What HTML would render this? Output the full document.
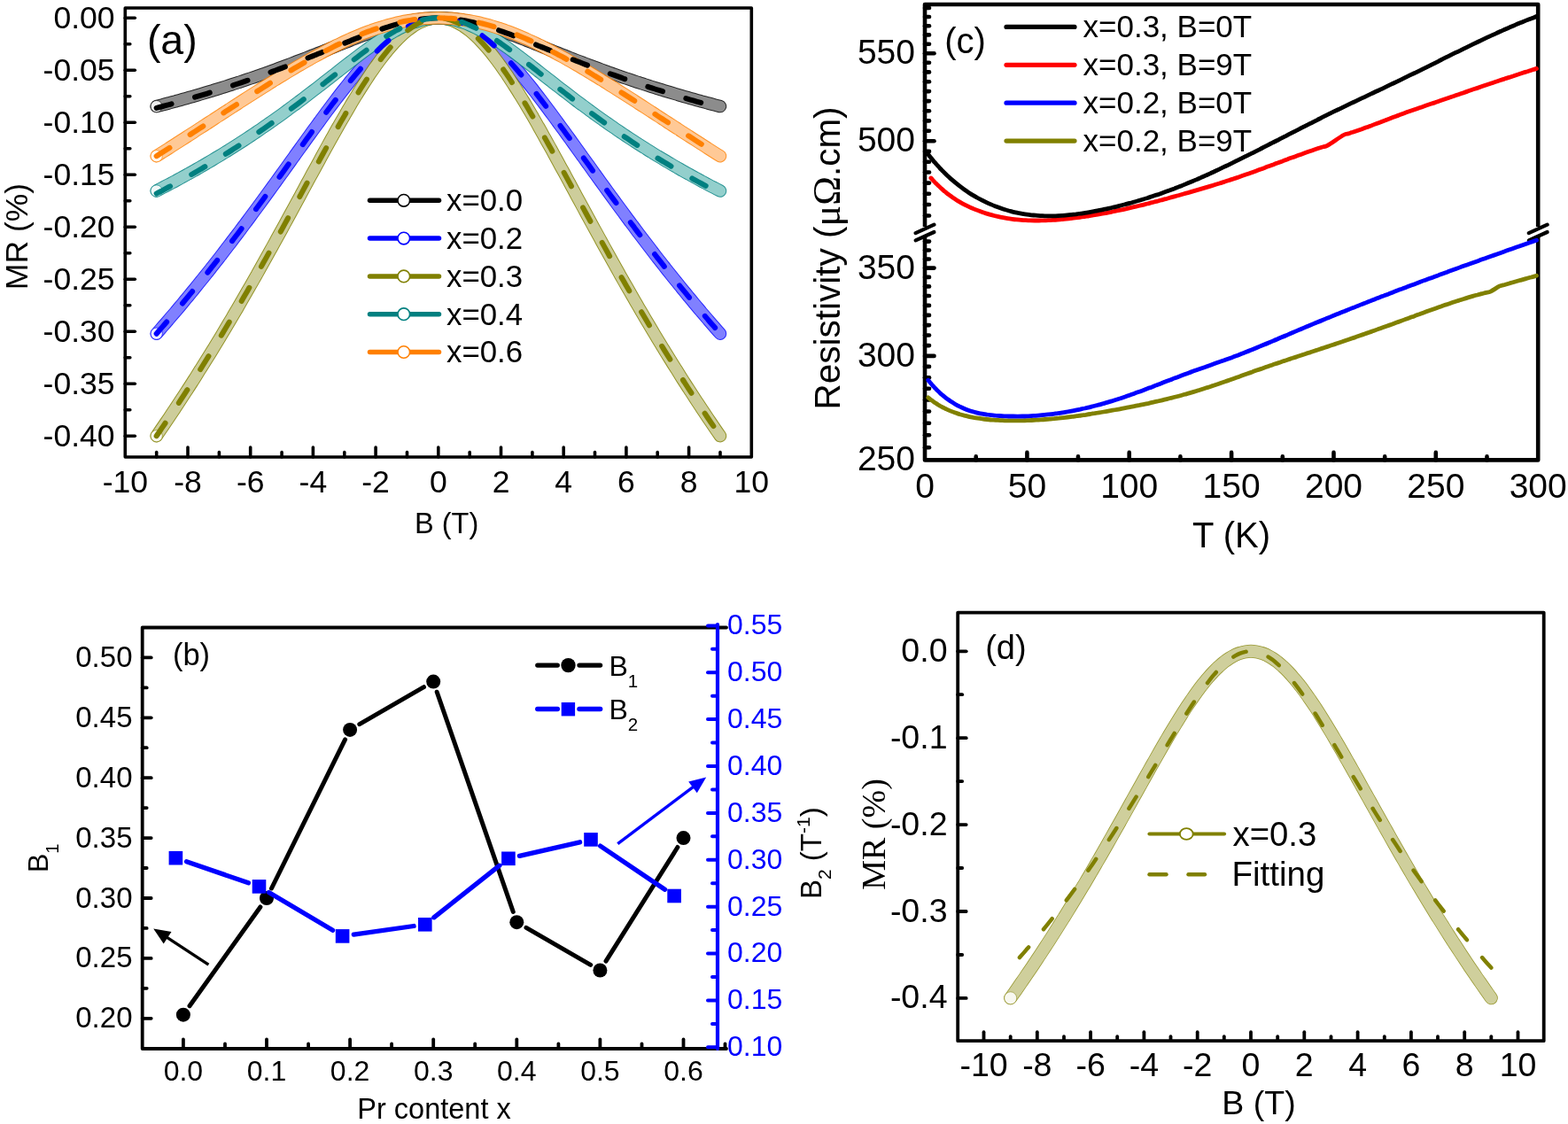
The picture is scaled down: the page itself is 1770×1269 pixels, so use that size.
<!DOCTYPE html>
<html><head><meta charset="utf-8"><title>Figure</title>
<style>html,body{margin:0;padding:0;background:#fff;}svg{display:block;}</style>
</head><body>
<svg width="1770" height="1269" viewBox="0 0 1770 1269">
<rect width="1770" height="1269" fill="#fff"/>
<path d="M176.7,120.1 C177.8,119.8 181.4,118.9 183.7,118.3 C186.1,117.6 188.4,117 190.8,116.4 C193.1,115.7 195.5,115.1 197.9,114.5 C200.2,113.8 202.6,113.2 204.9,112.5 C207.3,111.8 209.6,111.2 212,110.5 C214.4,109.8 216.7,109.2 219.1,108.5 C221.4,107.8 223.8,107.1 226.1,106.4 C228.5,105.7 230.9,105 233.2,104.3 C235.6,103.6 237.9,102.9 240.3,102.2 C242.6,101.4 245,100.7 247.4,100 C249.7,99.3 252.1,98.5 254.4,97.8 C256.8,97 259.1,96.3 261.5,95.5 C263.8,94.7 266.2,94 268.6,93.2 C270.9,92.4 273.3,91.7 275.6,90.9 C278,90.1 280.3,89.3 282.7,88.5 C285.1,87.7 287.4,86.9 289.8,86.1 C292.1,85.2 294.5,84.4 296.8,83.6 C299.2,82.8 301.6,81.9 303.9,81.1 C306.3,80.2 308.6,79.4 311,78.5 C313.3,77.7 315.7,76.8 318.1,75.9 C320.4,75.1 322.8,74.2 325.1,73.3 C327.5,72.4 329.8,71.5 332.2,70.6 C334.5,69.7 336.9,68.8 339.3,67.9 C341.6,67 344,66.1 346.3,65.2 C348.7,64.3 351,63.3 353.4,62.4 C355.8,61.5 358.1,60.5 360.5,59.6 C362.8,58.7 365.2,57.7 367.5,56.8 C369.9,55.8 372.3,54.9 374.6,54 C377,53 379.3,52.1 381.7,51.1 C384,50.2 386.4,49.2 388.8,48.3 C391.1,47.4 393.5,46.4 395.8,45.5 C398.2,44.6 400.5,43.6 402.9,42.7 C405.2,41.8 407.6,40.9 410,40 C412.3,39.1 414.7,38.2 417,37.4 C419.4,36.5 421.7,35.6 424.1,34.8 C426.5,34 428.8,33.2 431.2,32.4 C433.5,31.6 435.9,30.8 438.2,30.1 C440.6,29.4 443,28.6 445.3,28 C447.7,27.3 450,26.7 452.4,26.1 C454.7,25.5 457.1,24.9 459.5,24.4 C461.8,23.8 464.2,23.4 466.5,22.9 C468.9,22.5 471.2,22.1 473.6,21.8 C475.9,21.5 478.3,21.2 480.7,21 C483,20.8 485.4,20.6 487.7,20.5 C490.1,20.4 492.4,20.3 494.8,20.3 C497.2,20.3 499.5,20.4 501.9,20.5 C504.2,20.6 506.6,20.8 508.9,21 C511.3,21.2 513.7,21.5 516,21.8 C518.4,22.1 520.7,22.5 523.1,22.9 C525.4,23.4 527.8,23.8 530.2,24.4 C532.5,24.9 534.9,25.5 537.2,26.1 C539.6,26.7 541.9,27.3 544.3,28 C546.6,28.6 549,29.4 551.4,30.1 C553.7,30.8 556.1,31.6 558.4,32.4 C560.8,33.2 563.1,34 565.5,34.8 C567.9,35.6 570.2,36.5 572.6,37.4 C574.9,38.2 577.3,39.1 579.6,40 C582,40.9 584.4,41.8 586.7,42.7 C589.1,43.6 591.4,44.6 593.8,45.5 C596.1,46.4 598.5,47.4 600.9,48.3 C603.2,49.2 605.6,50.2 607.9,51.1 C610.3,52.1 612.6,53 615,54 C617.3,54.9 619.7,55.8 622.1,56.8 C624.4,57.7 626.8,58.7 629.1,59.6 C631.5,60.5 633.8,61.5 636.2,62.4 C638.6,63.3 640.9,64.3 643.3,65.2 C645.6,66.1 648,67 650.3,67.9 C652.7,68.8 655.1,69.7 657.4,70.6 C659.8,71.5 662.1,72.4 664.5,73.3 C666.8,74.2 669.2,75.1 671.5,75.9 C673.9,76.8 676.3,77.7 678.6,78.5 C681,79.4 683.3,80.2 685.7,81.1 C688,81.9 690.4,82.8 692.8,83.6 C695.1,84.4 697.5,85.2 699.8,86.1 C702.2,86.9 704.5,87.7 706.9,88.5 C709.3,89.3 711.6,90.1 714,90.9 C716.3,91.7 718.7,92.4 721,93.2 C723.4,94 725.8,94.7 728.1,95.5 C730.5,96.3 732.8,97 735.2,97.8 C737.5,98.5 739.9,99.3 742.2,100 C744.6,100.7 747,101.4 749.3,102.2 C751.7,102.9 754,103.6 756.4,104.3 C758.7,105 761.1,105.7 763.5,106.4 C765.8,107.1 768.2,107.8 770.5,108.5 C772.9,109.2 775.2,109.8 777.6,110.5 C780,111.2 782.3,111.8 784.7,112.5 C787,113.2 789.4,113.8 791.7,114.5 C794.1,115.1 796.5,115.7 798.8,116.4 C801.2,117 803.5,117.6 805.9,118.3 C808.2,118.9 811.8,119.8 813,120.1" fill="none" stroke="#000000" stroke-width="14.5" stroke-linecap="round" stroke-linejoin="round" opacity="0.85"/>
<path d="M176.7,120.1 C177.8,119.8 181.4,118.9 183.7,118.3 C186.1,117.6 188.4,117 190.8,116.4 C193.1,115.7 195.5,115.1 197.9,114.5 C200.2,113.8 202.6,113.2 204.9,112.5 C207.3,111.8 209.6,111.2 212,110.5 C214.4,109.8 216.7,109.2 219.1,108.5 C221.4,107.8 223.8,107.1 226.1,106.4 C228.5,105.7 230.9,105 233.2,104.3 C235.6,103.6 237.9,102.9 240.3,102.2 C242.6,101.4 245,100.7 247.4,100 C249.7,99.3 252.1,98.5 254.4,97.8 C256.8,97 259.1,96.3 261.5,95.5 C263.8,94.7 266.2,94 268.6,93.2 C270.9,92.4 273.3,91.7 275.6,90.9 C278,90.1 280.3,89.3 282.7,88.5 C285.1,87.7 287.4,86.9 289.8,86.1 C292.1,85.2 294.5,84.4 296.8,83.6 C299.2,82.8 301.6,81.9 303.9,81.1 C306.3,80.2 308.6,79.4 311,78.5 C313.3,77.7 315.7,76.8 318.1,75.9 C320.4,75.1 322.8,74.2 325.1,73.3 C327.5,72.4 329.8,71.5 332.2,70.6 C334.5,69.7 336.9,68.8 339.3,67.9 C341.6,67 344,66.1 346.3,65.2 C348.7,64.3 351,63.3 353.4,62.4 C355.8,61.5 358.1,60.5 360.5,59.6 C362.8,58.7 365.2,57.7 367.5,56.8 C369.9,55.8 372.3,54.9 374.6,54 C377,53 379.3,52.1 381.7,51.1 C384,50.2 386.4,49.2 388.8,48.3 C391.1,47.4 393.5,46.4 395.8,45.5 C398.2,44.6 400.5,43.6 402.9,42.7 C405.2,41.8 407.6,40.9 410,40 C412.3,39.1 414.7,38.2 417,37.4 C419.4,36.5 421.7,35.6 424.1,34.8 C426.5,34 428.8,33.2 431.2,32.4 C433.5,31.6 435.9,30.8 438.2,30.1 C440.6,29.4 443,28.6 445.3,28 C447.7,27.3 450,26.7 452.4,26.1 C454.7,25.5 457.1,24.9 459.5,24.4 C461.8,23.8 464.2,23.4 466.5,22.9 C468.9,22.5 471.2,22.1 473.6,21.8 C475.9,21.5 478.3,21.2 480.7,21 C483,20.8 485.4,20.6 487.7,20.5 C490.1,20.4 492.4,20.3 494.8,20.3 C497.2,20.3 499.5,20.4 501.9,20.5 C504.2,20.6 506.6,20.8 508.9,21 C511.3,21.2 513.7,21.5 516,21.8 C518.4,22.1 520.7,22.5 523.1,22.9 C525.4,23.4 527.8,23.8 530.2,24.4 C532.5,24.9 534.9,25.5 537.2,26.1 C539.6,26.7 541.9,27.3 544.3,28 C546.6,28.6 549,29.4 551.4,30.1 C553.7,30.8 556.1,31.6 558.4,32.4 C560.8,33.2 563.1,34 565.5,34.8 C567.9,35.6 570.2,36.5 572.6,37.4 C574.9,38.2 577.3,39.1 579.6,40 C582,40.9 584.4,41.8 586.7,42.7 C589.1,43.6 591.4,44.6 593.8,45.5 C596.1,46.4 598.5,47.4 600.9,48.3 C603.2,49.2 605.6,50.2 607.9,51.1 C610.3,52.1 612.6,53 615,54 C617.3,54.9 619.7,55.8 622.1,56.8 C624.4,57.7 626.8,58.7 629.1,59.6 C631.5,60.5 633.8,61.5 636.2,62.4 C638.6,63.3 640.9,64.3 643.3,65.2 C645.6,66.1 648,67 650.3,67.9 C652.7,68.8 655.1,69.7 657.4,70.6 C659.8,71.5 662.1,72.4 664.5,73.3 C666.8,74.2 669.2,75.1 671.5,75.9 C673.9,76.8 676.3,77.7 678.6,78.5 C681,79.4 683.3,80.2 685.7,81.1 C688,81.9 690.4,82.8 692.8,83.6 C695.1,84.4 697.5,85.2 699.8,86.1 C702.2,86.9 704.5,87.7 706.9,88.5 C709.3,89.3 711.6,90.1 714,90.9 C716.3,91.7 718.7,92.4 721,93.2 C723.4,94 725.8,94.7 728.1,95.5 C730.5,96.3 732.8,97 735.2,97.8 C737.5,98.5 739.9,99.3 742.2,100 C744.6,100.7 747,101.4 749.3,102.2 C751.7,102.9 754,103.6 756.4,104.3 C758.7,105 761.1,105.7 763.5,106.4 C765.8,107.1 768.2,107.8 770.5,108.5 C772.9,109.2 775.2,109.8 777.6,110.5 C780,111.2 782.3,111.8 784.7,112.5 C787,113.2 789.4,113.8 791.7,114.5 C794.1,115.1 796.5,115.7 798.8,116.4 C801.2,117 803.5,117.6 805.9,118.3 C808.2,118.9 811.8,119.8 813,120.1" fill="none" stroke="#8c8c8c" stroke-width="12.5" stroke-linecap="round" stroke-linejoin="round"/>
<circle cx="176.7" cy="120.1" r="6.6" fill="#fff" fill-opacity="0.85" stroke="#000000" stroke-opacity="0.6" stroke-width="1"/>
<path d="M176.7,376.7 C177.8,375.4 181.4,371.3 183.7,368.6 C186.1,365.9 188.4,363.2 190.8,360.4 C193.1,357.7 195.5,354.9 197.9,352.2 C200.2,349.4 202.6,346.6 204.9,343.8 C207.3,340.9 209.6,338.1 212,335.3 C214.4,332.4 216.7,329.5 219.1,326.6 C221.4,323.8 223.8,320.9 226.1,317.9 C228.5,315 230.9,312.1 233.2,309.1 C235.6,306.2 237.9,303.2 240.3,300.2 C242.6,297.2 245,294.2 247.4,291.2 C249.7,288.1 252.1,285.1 254.4,282 C256.8,279 259.1,275.9 261.5,272.8 C263.8,269.7 266.2,266.6 268.6,263.5 C270.9,260.4 273.3,257.3 275.6,254.1 C278,251 280.3,247.8 282.7,244.6 C285.1,241.4 287.4,238.2 289.8,235 C292.1,231.8 294.5,228.6 296.8,225.4 C299.2,222.2 301.6,218.9 303.9,215.7 C306.3,212.4 308.6,209.2 311,205.9 C313.3,202.7 315.7,199.4 318.1,196.1 C320.4,192.9 322.8,189.6 325.1,186.3 C327.5,183 329.8,179.7 332.2,176.5 C334.5,173.2 336.9,169.9 339.3,166.6 C341.6,163.3 344,160.1 346.3,156.8 C348.7,153.5 351,150.3 353.4,147 C355.8,143.8 358.1,140.6 360.5,137.4 C362.8,134.1 365.2,130.9 367.5,127.8 C369.9,124.6 372.3,121.4 374.6,118.3 C377,115.2 379.3,112.1 381.7,109 C384,106 386.4,102.9 388.8,99.9 C391.1,96.9 393.5,94 395.8,91.1 C398.2,88.2 400.5,85.3 402.9,82.5 C405.2,79.8 407.6,77 410,74.3 C412.3,71.7 414.7,69.1 417,66.5 C419.4,64 421.7,61.5 424.1,59.1 C426.5,56.8 428.8,54.5 431.2,52.2 C433.5,50 435.9,47.9 438.2,45.9 C440.6,43.9 443,42 445.3,40.2 C447.7,38.3 450,36.6 452.4,35.1 C454.7,33.5 457.1,32 459.5,30.6 C461.8,29.3 464.2,28.1 466.5,27 C468.9,25.9 471.2,24.9 473.6,24.1 C475.9,23.2 478.3,22.5 480.7,22 C483,21.4 485.4,21 487.7,20.7 C490.1,20.4 492.4,20.3 494.8,20.3 C497.2,20.3 499.5,20.4 501.9,20.7 C504.2,21 506.6,21.4 508.9,22 C511.3,22.5 513.7,23.2 516,24.1 C518.4,24.9 520.7,25.9 523.1,27 C525.4,28.1 527.8,29.3 530.2,30.6 C532.5,32 534.9,33.5 537.2,35.1 C539.6,36.6 541.9,38.3 544.3,40.2 C546.6,42 549,43.9 551.4,45.9 C553.7,47.9 556.1,50 558.4,52.2 C560.8,54.5 563.1,56.8 565.5,59.1 C567.9,61.5 570.2,64 572.6,66.5 C574.9,69.1 577.3,71.7 579.6,74.3 C582,77 584.4,79.8 586.7,82.5 C589.1,85.3 591.4,88.2 593.8,91.1 C596.1,94 598.5,96.9 600.9,99.9 C603.2,102.9 605.6,106 607.9,109 C610.3,112.1 612.6,115.2 615,118.3 C617.3,121.4 619.7,124.6 622.1,127.8 C624.4,130.9 626.8,134.1 629.1,137.4 C631.5,140.6 633.8,143.8 636.2,147 C638.6,150.3 640.9,153.5 643.3,156.8 C645.6,160.1 648,163.3 650.3,166.6 C652.7,169.9 655.1,173.2 657.4,176.5 C659.8,179.7 662.1,183 664.5,186.3 C666.8,189.6 669.2,192.9 671.5,196.1 C673.9,199.4 676.3,202.7 678.6,205.9 C681,209.2 683.3,212.4 685.7,215.7 C688,218.9 690.4,222.2 692.8,225.4 C695.1,228.6 697.5,231.8 699.8,235 C702.2,238.2 704.5,241.4 706.9,244.6 C709.3,247.8 711.6,251 714,254.1 C716.3,257.3 718.7,260.4 721,263.5 C723.4,266.6 725.8,269.7 728.1,272.8 C730.5,275.9 732.8,279 735.2,282 C737.5,285.1 739.9,288.1 742.2,291.2 C744.6,294.2 747,297.2 749.3,300.2 C751.7,303.2 754,306.2 756.4,309.1 C758.7,312.1 761.1,315 763.5,317.9 C765.8,320.9 768.2,323.8 770.5,326.6 C772.9,329.5 775.2,332.4 777.6,335.3 C780,338.1 782.3,340.9 784.7,343.8 C787,346.6 789.4,349.4 791.7,352.2 C794.1,354.9 796.5,357.7 798.8,360.4 C801.2,363.2 803.5,365.9 805.9,368.6 C808.2,371.3 811.8,375.4 813,376.7" fill="none" stroke="#0000ff" stroke-width="14.5" stroke-linecap="round" stroke-linejoin="round" opacity="0.85"/>
<path d="M176.7,376.7 C177.8,375.4 181.4,371.3 183.7,368.6 C186.1,365.9 188.4,363.2 190.8,360.4 C193.1,357.7 195.5,354.9 197.9,352.2 C200.2,349.4 202.6,346.6 204.9,343.8 C207.3,340.9 209.6,338.1 212,335.3 C214.4,332.4 216.7,329.5 219.1,326.6 C221.4,323.8 223.8,320.9 226.1,317.9 C228.5,315 230.9,312.1 233.2,309.1 C235.6,306.2 237.9,303.2 240.3,300.2 C242.6,297.2 245,294.2 247.4,291.2 C249.7,288.1 252.1,285.1 254.4,282 C256.8,279 259.1,275.9 261.5,272.8 C263.8,269.7 266.2,266.6 268.6,263.5 C270.9,260.4 273.3,257.3 275.6,254.1 C278,251 280.3,247.8 282.7,244.6 C285.1,241.4 287.4,238.2 289.8,235 C292.1,231.8 294.5,228.6 296.8,225.4 C299.2,222.2 301.6,218.9 303.9,215.7 C306.3,212.4 308.6,209.2 311,205.9 C313.3,202.7 315.7,199.4 318.1,196.1 C320.4,192.9 322.8,189.6 325.1,186.3 C327.5,183 329.8,179.7 332.2,176.5 C334.5,173.2 336.9,169.9 339.3,166.6 C341.6,163.3 344,160.1 346.3,156.8 C348.7,153.5 351,150.3 353.4,147 C355.8,143.8 358.1,140.6 360.5,137.4 C362.8,134.1 365.2,130.9 367.5,127.8 C369.9,124.6 372.3,121.4 374.6,118.3 C377,115.2 379.3,112.1 381.7,109 C384,106 386.4,102.9 388.8,99.9 C391.1,96.9 393.5,94 395.8,91.1 C398.2,88.2 400.5,85.3 402.9,82.5 C405.2,79.8 407.6,77 410,74.3 C412.3,71.7 414.7,69.1 417,66.5 C419.4,64 421.7,61.5 424.1,59.1 C426.5,56.8 428.8,54.5 431.2,52.2 C433.5,50 435.9,47.9 438.2,45.9 C440.6,43.9 443,42 445.3,40.2 C447.7,38.3 450,36.6 452.4,35.1 C454.7,33.5 457.1,32 459.5,30.6 C461.8,29.3 464.2,28.1 466.5,27 C468.9,25.9 471.2,24.9 473.6,24.1 C475.9,23.2 478.3,22.5 480.7,22 C483,21.4 485.4,21 487.7,20.7 C490.1,20.4 492.4,20.3 494.8,20.3 C497.2,20.3 499.5,20.4 501.9,20.7 C504.2,21 506.6,21.4 508.9,22 C511.3,22.5 513.7,23.2 516,24.1 C518.4,24.9 520.7,25.9 523.1,27 C525.4,28.1 527.8,29.3 530.2,30.6 C532.5,32 534.9,33.5 537.2,35.1 C539.6,36.6 541.9,38.3 544.3,40.2 C546.6,42 549,43.9 551.4,45.9 C553.7,47.9 556.1,50 558.4,52.2 C560.8,54.5 563.1,56.8 565.5,59.1 C567.9,61.5 570.2,64 572.6,66.5 C574.9,69.1 577.3,71.7 579.6,74.3 C582,77 584.4,79.8 586.7,82.5 C589.1,85.3 591.4,88.2 593.8,91.1 C596.1,94 598.5,96.9 600.9,99.9 C603.2,102.9 605.6,106 607.9,109 C610.3,112.1 612.6,115.2 615,118.3 C617.3,121.4 619.7,124.6 622.1,127.8 C624.4,130.9 626.8,134.1 629.1,137.4 C631.5,140.6 633.8,143.8 636.2,147 C638.6,150.3 640.9,153.5 643.3,156.8 C645.6,160.1 648,163.3 650.3,166.6 C652.7,169.9 655.1,173.2 657.4,176.5 C659.8,179.7 662.1,183 664.5,186.3 C666.8,189.6 669.2,192.9 671.5,196.1 C673.9,199.4 676.3,202.7 678.6,205.9 C681,209.2 683.3,212.4 685.7,215.7 C688,218.9 690.4,222.2 692.8,225.4 C695.1,228.6 697.5,231.8 699.8,235 C702.2,238.2 704.5,241.4 706.9,244.6 C709.3,247.8 711.6,251 714,254.1 C716.3,257.3 718.7,260.4 721,263.5 C723.4,266.6 725.8,269.7 728.1,272.8 C730.5,275.9 732.8,279 735.2,282 C737.5,285.1 739.9,288.1 742.2,291.2 C744.6,294.2 747,297.2 749.3,300.2 C751.7,303.2 754,306.2 756.4,309.1 C758.7,312.1 761.1,315 763.5,317.9 C765.8,320.9 768.2,323.8 770.5,326.6 C772.9,329.5 775.2,332.4 777.6,335.3 C780,338.1 782.3,340.9 784.7,343.8 C787,346.6 789.4,349.4 791.7,352.2 C794.1,354.9 796.5,357.7 798.8,360.4 C801.2,363.2 803.5,365.9 805.9,368.6 C808.2,371.3 811.8,375.4 813,376.7" fill="none" stroke="#8080ff" stroke-width="12.5" stroke-linecap="round" stroke-linejoin="round"/>
<circle cx="176.7" cy="376.7" r="6.6" fill="#fff" fill-opacity="0.85" stroke="#0000ff" stroke-opacity="0.6" stroke-width="1"/>
<path d="M176.7,492.2 C177.8,490.5 181.4,485.3 183.7,481.9 C186.1,478.4 188.4,475 190.8,471.5 C193.1,468 195.5,464.4 197.9,460.9 C200.2,457.3 202.6,453.8 204.9,450.2 C207.3,446.6 209.6,443 212,439.3 C214.4,435.7 216.7,432 219.1,428.3 C221.4,424.6 223.8,420.9 226.1,417.1 C228.5,413.4 230.9,409.6 233.2,405.8 C235.6,402 237.9,398.2 240.3,394.4 C242.6,390.5 245,386.6 247.4,382.7 C249.7,378.8 252.1,374.9 254.4,371 C256.8,367 259.1,363.1 261.5,359.1 C263.8,355.1 266.2,351.1 268.6,347 C270.9,343 273.3,338.9 275.6,334.8 C278,330.7 280.3,326.6 282.7,322.5 C285.1,318.4 287.4,314.2 289.8,310.1 C292.1,305.9 294.5,301.7 296.8,297.5 C299.2,293.3 301.6,289 303.9,284.8 C306.3,280.5 308.6,276.3 311,272 C313.3,267.7 315.7,263.4 318.1,259.1 C320.4,254.8 322.8,250.5 325.1,246.2 C327.5,241.9 329.8,237.5 332.2,233.2 C334.5,228.9 336.9,224.5 339.3,220.2 C341.6,215.8 344,211.5 346.3,207.1 C348.7,202.8 351,198.4 353.4,194.1 C355.8,189.8 358.1,185.5 360.5,181.2 C362.8,176.8 365.2,172.6 367.5,168.3 C369.9,164 372.3,159.8 374.6,155.6 C377,151.3 379.3,147.1 381.7,143 C384,138.8 386.4,134.7 388.8,130.7 C391.1,126.6 393.5,122.6 395.8,118.6 C398.2,114.7 400.5,110.8 402.9,107 C405.2,103.1 407.6,99.4 410,95.7 C412.3,92 414.7,88.4 417,84.9 C419.4,81.4 421.7,78 424.1,74.7 C426.5,71.4 428.8,68.2 431.2,65.1 C433.5,62.1 435.9,59.1 438.2,56.3 C440.6,53.5 443,50.8 445.3,48.3 C447.7,45.7 450,43.3 452.4,41.1 C454.7,38.9 457.1,36.8 459.5,34.9 C461.8,33 464.2,31.3 466.5,29.7 C468.9,28.2 471.2,26.8 473.6,25.6 C475.9,24.5 478.3,23.5 480.7,22.7 C483,21.9 485.4,21.3 487.7,20.9 C490.1,20.5 492.4,20.3 494.8,20.3 C497.2,20.3 499.5,20.5 501.9,20.9 C504.2,21.3 506.6,21.9 508.9,22.7 C511.3,23.5 513.7,24.5 516,25.6 C518.4,26.8 520.7,28.2 523.1,29.7 C525.4,31.3 527.8,33 530.2,34.9 C532.5,36.8 534.9,38.9 537.2,41.1 C539.6,43.3 541.9,45.7 544.3,48.3 C546.6,50.8 549,53.5 551.4,56.3 C553.7,59.1 556.1,62.1 558.4,65.1 C560.8,68.2 563.1,71.4 565.5,74.7 C567.9,78 570.2,81.4 572.6,84.9 C574.9,88.4 577.3,92 579.6,95.7 C582,99.4 584.4,103.1 586.7,107 C589.1,110.8 591.4,114.7 593.8,118.6 C596.1,122.6 598.5,126.6 600.9,130.7 C603.2,134.7 605.6,138.8 607.9,143 C610.3,147.1 612.6,151.3 615,155.6 C617.3,159.8 619.7,164 622.1,168.3 C624.4,172.6 626.8,176.8 629.1,181.2 C631.5,185.5 633.8,189.8 636.2,194.1 C638.6,198.4 640.9,202.8 643.3,207.1 C645.6,211.5 648,215.8 650.3,220.2 C652.7,224.5 655.1,228.9 657.4,233.2 C659.8,237.5 662.1,241.9 664.5,246.2 C666.8,250.5 669.2,254.8 671.5,259.1 C673.9,263.4 676.3,267.7 678.6,272 C681,276.3 683.3,280.5 685.7,284.8 C688,289 690.4,293.3 692.8,297.5 C695.1,301.7 697.5,305.9 699.8,310.1 C702.2,314.2 704.5,318.4 706.9,322.5 C709.3,326.6 711.6,330.7 714,334.8 C716.3,338.9 718.7,343 721,347 C723.4,351.1 725.8,355.1 728.1,359.1 C730.5,363.1 732.8,367 735.2,371 C737.5,374.9 739.9,378.8 742.2,382.7 C744.6,386.6 747,390.5 749.3,394.4 C751.7,398.2 754,402 756.4,405.8 C758.7,409.6 761.1,413.4 763.5,417.1 C765.8,420.9 768.2,424.6 770.5,428.3 C772.9,432 775.2,435.7 777.6,439.3 C780,443 782.3,446.6 784.7,450.2 C787,453.8 789.4,457.3 791.7,460.9 C794.1,464.4 796.5,468 798.8,471.5 C801.2,475 803.5,478.4 805.9,481.9 C808.2,485.3 811.8,490.5 813,492.2" fill="none" stroke="#808000" stroke-width="14.5" stroke-linecap="round" stroke-linejoin="round" opacity="0.85"/>
<path d="M176.7,492.2 C177.8,490.5 181.4,485.3 183.7,481.9 C186.1,478.4 188.4,475 190.8,471.5 C193.1,468 195.5,464.4 197.9,460.9 C200.2,457.3 202.6,453.8 204.9,450.2 C207.3,446.6 209.6,443 212,439.3 C214.4,435.7 216.7,432 219.1,428.3 C221.4,424.6 223.8,420.9 226.1,417.1 C228.5,413.4 230.9,409.6 233.2,405.8 C235.6,402 237.9,398.2 240.3,394.4 C242.6,390.5 245,386.6 247.4,382.7 C249.7,378.8 252.1,374.9 254.4,371 C256.8,367 259.1,363.1 261.5,359.1 C263.8,355.1 266.2,351.1 268.6,347 C270.9,343 273.3,338.9 275.6,334.8 C278,330.7 280.3,326.6 282.7,322.5 C285.1,318.4 287.4,314.2 289.8,310.1 C292.1,305.9 294.5,301.7 296.8,297.5 C299.2,293.3 301.6,289 303.9,284.8 C306.3,280.5 308.6,276.3 311,272 C313.3,267.7 315.7,263.4 318.1,259.1 C320.4,254.8 322.8,250.5 325.1,246.2 C327.5,241.9 329.8,237.5 332.2,233.2 C334.5,228.9 336.9,224.5 339.3,220.2 C341.6,215.8 344,211.5 346.3,207.1 C348.7,202.8 351,198.4 353.4,194.1 C355.8,189.8 358.1,185.5 360.5,181.2 C362.8,176.8 365.2,172.6 367.5,168.3 C369.9,164 372.3,159.8 374.6,155.6 C377,151.3 379.3,147.1 381.7,143 C384,138.8 386.4,134.7 388.8,130.7 C391.1,126.6 393.5,122.6 395.8,118.6 C398.2,114.7 400.5,110.8 402.9,107 C405.2,103.1 407.6,99.4 410,95.7 C412.3,92 414.7,88.4 417,84.9 C419.4,81.4 421.7,78 424.1,74.7 C426.5,71.4 428.8,68.2 431.2,65.1 C433.5,62.1 435.9,59.1 438.2,56.3 C440.6,53.5 443,50.8 445.3,48.3 C447.7,45.7 450,43.3 452.4,41.1 C454.7,38.9 457.1,36.8 459.5,34.9 C461.8,33 464.2,31.3 466.5,29.7 C468.9,28.2 471.2,26.8 473.6,25.6 C475.9,24.5 478.3,23.5 480.7,22.7 C483,21.9 485.4,21.3 487.7,20.9 C490.1,20.5 492.4,20.3 494.8,20.3 C497.2,20.3 499.5,20.5 501.9,20.9 C504.2,21.3 506.6,21.9 508.9,22.7 C511.3,23.5 513.7,24.5 516,25.6 C518.4,26.8 520.7,28.2 523.1,29.7 C525.4,31.3 527.8,33 530.2,34.9 C532.5,36.8 534.9,38.9 537.2,41.1 C539.6,43.3 541.9,45.7 544.3,48.3 C546.6,50.8 549,53.5 551.4,56.3 C553.7,59.1 556.1,62.1 558.4,65.1 C560.8,68.2 563.1,71.4 565.5,74.7 C567.9,78 570.2,81.4 572.6,84.9 C574.9,88.4 577.3,92 579.6,95.7 C582,99.4 584.4,103.1 586.7,107 C589.1,110.8 591.4,114.7 593.8,118.6 C596.1,122.6 598.5,126.6 600.9,130.7 C603.2,134.7 605.6,138.8 607.9,143 C610.3,147.1 612.6,151.3 615,155.6 C617.3,159.8 619.7,164 622.1,168.3 C624.4,172.6 626.8,176.8 629.1,181.2 C631.5,185.5 633.8,189.8 636.2,194.1 C638.6,198.4 640.9,202.8 643.3,207.1 C645.6,211.5 648,215.8 650.3,220.2 C652.7,224.5 655.1,228.9 657.4,233.2 C659.8,237.5 662.1,241.9 664.5,246.2 C666.8,250.5 669.2,254.8 671.5,259.1 C673.9,263.4 676.3,267.7 678.6,272 C681,276.3 683.3,280.5 685.7,284.8 C688,289 690.4,293.3 692.8,297.5 C695.1,301.7 697.5,305.9 699.8,310.1 C702.2,314.2 704.5,318.4 706.9,322.5 C709.3,326.6 711.6,330.7 714,334.8 C716.3,338.9 718.7,343 721,347 C723.4,351.1 725.8,355.1 728.1,359.1 C730.5,363.1 732.8,367 735.2,371 C737.5,374.9 739.9,378.8 742.2,382.7 C744.6,386.6 747,390.5 749.3,394.4 C751.7,398.2 754,402 756.4,405.8 C758.7,409.6 761.1,413.4 763.5,417.1 C765.8,420.9 768.2,424.6 770.5,428.3 C772.9,432 775.2,435.7 777.6,439.3 C780,443 782.3,446.6 784.7,450.2 C787,453.8 789.4,457.3 791.7,460.9 C794.1,464.4 796.5,468 798.8,471.5 C801.2,475 803.5,478.4 805.9,481.9 C808.2,485.3 811.8,490.5 813,492.2" fill="none" stroke="#cdcd9b" stroke-width="12.5" stroke-linecap="round" stroke-linejoin="round"/>
<circle cx="176.7" cy="492.2" r="6.6" fill="#fff" fill-opacity="0.85" stroke="#808000" stroke-opacity="0.6" stroke-width="1"/>
<path d="M176.7,215.5 C177.8,214.9 181.4,213.1 183.7,211.8 C186.1,210.6 188.4,209.4 190.8,208.1 C193.1,206.9 195.5,205.6 197.9,204.4 C200.2,203.1 202.6,201.8 204.9,200.5 C207.3,199.3 209.6,198 212,196.6 C214.4,195.3 216.7,194 219.1,192.7 C221.4,191.3 223.8,190 226.1,188.6 C228.5,187.3 230.9,185.9 233.2,184.5 C235.6,183.1 237.9,181.8 240.3,180.3 C242.6,178.9 245,177.5 247.4,176.1 C249.7,174.7 252.1,173.2 254.4,171.7 C256.8,170.3 259.1,168.8 261.5,167.3 C263.8,165.8 266.2,164.3 268.6,162.8 C270.9,161.3 273.3,159.8 275.6,158.3 C278,156.7 280.3,155.2 282.7,153.6 C285.1,152 287.4,150.5 289.8,148.9 C292.1,147.3 294.5,145.7 296.8,144 C299.2,142.4 301.6,140.8 303.9,139.1 C306.3,137.5 308.6,135.8 311,134.1 C313.3,132.5 315.7,130.8 318.1,129.1 C320.4,127.4 322.8,125.6 325.1,123.9 C327.5,122.2 329.8,120.4 332.2,118.7 C334.5,116.9 336.9,115.2 339.3,113.4 C341.6,111.6 344,109.8 346.3,108 C348.7,106.2 351,104.4 353.4,102.6 C355.8,100.8 358.1,99 360.5,97.1 C362.8,95.3 365.2,93.5 367.5,91.6 C369.9,89.8 372.3,88 374.6,86.1 C377,84.3 379.3,82.4 381.7,80.6 C384,78.7 386.4,76.9 388.8,75 C391.1,73.2 393.5,71.4 395.8,69.6 C398.2,67.8 400.5,65.9 402.9,64.2 C405.2,62.4 407.6,60.6 410,58.8 C412.3,57.1 414.7,55.4 417,53.7 C419.4,52 421.7,50.3 424.1,48.7 C426.5,47 428.8,45.5 431.2,43.9 C433.5,42.4 435.9,40.9 438.2,39.4 C440.6,38 443,36.6 445.3,35.3 C447.7,34 450,32.7 452.4,31.5 C454.7,30.4 457.1,29.3 459.5,28.3 C461.8,27.2 464.2,26.3 466.5,25.5 C468.9,24.6 471.2,23.9 473.6,23.2 C475.9,22.6 478.3,22.1 480.7,21.6 C483,21.2 485.4,20.9 487.7,20.6 C490.1,20.4 492.4,20.3 494.8,20.3 C497.2,20.3 499.5,20.4 501.9,20.6 C504.2,20.9 506.6,21.2 508.9,21.6 C511.3,22.1 513.7,22.6 516,23.2 C518.4,23.9 520.7,24.6 523.1,25.5 C525.4,26.3 527.8,27.2 530.2,28.3 C532.5,29.3 534.9,30.4 537.2,31.5 C539.6,32.7 541.9,34 544.3,35.3 C546.6,36.6 549,38 551.4,39.4 C553.7,40.9 556.1,42.4 558.4,43.9 C560.8,45.5 563.1,47 565.5,48.7 C567.9,50.3 570.2,52 572.6,53.7 C574.9,55.4 577.3,57.1 579.6,58.8 C582,60.6 584.4,62.4 586.7,64.2 C589.1,65.9 591.4,67.8 593.8,69.6 C596.1,71.4 598.5,73.2 600.9,75 C603.2,76.9 605.6,78.7 607.9,80.6 C610.3,82.4 612.6,84.3 615,86.1 C617.3,88 619.7,89.8 622.1,91.6 C624.4,93.5 626.8,95.3 629.1,97.1 C631.5,99 633.8,100.8 636.2,102.6 C638.6,104.4 640.9,106.2 643.3,108 C645.6,109.8 648,111.6 650.3,113.4 C652.7,115.2 655.1,116.9 657.4,118.7 C659.8,120.4 662.1,122.2 664.5,123.9 C666.8,125.6 669.2,127.4 671.5,129.1 C673.9,130.8 676.3,132.5 678.6,134.1 C681,135.8 683.3,137.5 685.7,139.1 C688,140.8 690.4,142.4 692.8,144 C695.1,145.7 697.5,147.3 699.8,148.9 C702.2,150.5 704.5,152 706.9,153.6 C709.3,155.2 711.6,156.7 714,158.3 C716.3,159.8 718.7,161.3 721,162.8 C723.4,164.3 725.8,165.8 728.1,167.3 C730.5,168.8 732.8,170.3 735.2,171.7 C737.5,173.2 739.9,174.7 742.2,176.1 C744.6,177.5 747,178.9 749.3,180.3 C751.7,181.8 754,183.1 756.4,184.5 C758.7,185.9 761.1,187.3 763.5,188.6 C765.8,190 768.2,191.3 770.5,192.7 C772.9,194 775.2,195.3 777.6,196.6 C780,198 782.3,199.3 784.7,200.5 C787,201.8 789.4,203.1 791.7,204.4 C794.1,205.6 796.5,206.9 798.8,208.1 C801.2,209.4 803.5,210.6 805.9,211.8 C808.2,213.1 811.8,214.9 813,215.5" fill="none" stroke="#008080" stroke-width="14.5" stroke-linecap="round" stroke-linejoin="round" opacity="0.85"/>
<path d="M176.7,215.5 C177.8,214.9 181.4,213.1 183.7,211.8 C186.1,210.6 188.4,209.4 190.8,208.1 C193.1,206.9 195.5,205.6 197.9,204.4 C200.2,203.1 202.6,201.8 204.9,200.5 C207.3,199.3 209.6,198 212,196.6 C214.4,195.3 216.7,194 219.1,192.7 C221.4,191.3 223.8,190 226.1,188.6 C228.5,187.3 230.9,185.9 233.2,184.5 C235.6,183.1 237.9,181.8 240.3,180.3 C242.6,178.9 245,177.5 247.4,176.1 C249.7,174.7 252.1,173.2 254.4,171.7 C256.8,170.3 259.1,168.8 261.5,167.3 C263.8,165.8 266.2,164.3 268.6,162.8 C270.9,161.3 273.3,159.8 275.6,158.3 C278,156.7 280.3,155.2 282.7,153.6 C285.1,152 287.4,150.5 289.8,148.9 C292.1,147.3 294.5,145.7 296.8,144 C299.2,142.4 301.6,140.8 303.9,139.1 C306.3,137.5 308.6,135.8 311,134.1 C313.3,132.5 315.7,130.8 318.1,129.1 C320.4,127.4 322.8,125.6 325.1,123.9 C327.5,122.2 329.8,120.4 332.2,118.7 C334.5,116.9 336.9,115.2 339.3,113.4 C341.6,111.6 344,109.8 346.3,108 C348.7,106.2 351,104.4 353.4,102.6 C355.8,100.8 358.1,99 360.5,97.1 C362.8,95.3 365.2,93.5 367.5,91.6 C369.9,89.8 372.3,88 374.6,86.1 C377,84.3 379.3,82.4 381.7,80.6 C384,78.7 386.4,76.9 388.8,75 C391.1,73.2 393.5,71.4 395.8,69.6 C398.2,67.8 400.5,65.9 402.9,64.2 C405.2,62.4 407.6,60.6 410,58.8 C412.3,57.1 414.7,55.4 417,53.7 C419.4,52 421.7,50.3 424.1,48.7 C426.5,47 428.8,45.5 431.2,43.9 C433.5,42.4 435.9,40.9 438.2,39.4 C440.6,38 443,36.6 445.3,35.3 C447.7,34 450,32.7 452.4,31.5 C454.7,30.4 457.1,29.3 459.5,28.3 C461.8,27.2 464.2,26.3 466.5,25.5 C468.9,24.6 471.2,23.9 473.6,23.2 C475.9,22.6 478.3,22.1 480.7,21.6 C483,21.2 485.4,20.9 487.7,20.6 C490.1,20.4 492.4,20.3 494.8,20.3 C497.2,20.3 499.5,20.4 501.9,20.6 C504.2,20.9 506.6,21.2 508.9,21.6 C511.3,22.1 513.7,22.6 516,23.2 C518.4,23.9 520.7,24.6 523.1,25.5 C525.4,26.3 527.8,27.2 530.2,28.3 C532.5,29.3 534.9,30.4 537.2,31.5 C539.6,32.7 541.9,34 544.3,35.3 C546.6,36.6 549,38 551.4,39.4 C553.7,40.9 556.1,42.4 558.4,43.9 C560.8,45.5 563.1,47 565.5,48.7 C567.9,50.3 570.2,52 572.6,53.7 C574.9,55.4 577.3,57.1 579.6,58.8 C582,60.6 584.4,62.4 586.7,64.2 C589.1,65.9 591.4,67.8 593.8,69.6 C596.1,71.4 598.5,73.2 600.9,75 C603.2,76.9 605.6,78.7 607.9,80.6 C610.3,82.4 612.6,84.3 615,86.1 C617.3,88 619.7,89.8 622.1,91.6 C624.4,93.5 626.8,95.3 629.1,97.1 C631.5,99 633.8,100.8 636.2,102.6 C638.6,104.4 640.9,106.2 643.3,108 C645.6,109.8 648,111.6 650.3,113.4 C652.7,115.2 655.1,116.9 657.4,118.7 C659.8,120.4 662.1,122.2 664.5,123.9 C666.8,125.6 669.2,127.4 671.5,129.1 C673.9,130.8 676.3,132.5 678.6,134.1 C681,135.8 683.3,137.5 685.7,139.1 C688,140.8 690.4,142.4 692.8,144 C695.1,145.7 697.5,147.3 699.8,148.9 C702.2,150.5 704.5,152 706.9,153.6 C709.3,155.2 711.6,156.7 714,158.3 C716.3,159.8 718.7,161.3 721,162.8 C723.4,164.3 725.8,165.8 728.1,167.3 C730.5,168.8 732.8,170.3 735.2,171.7 C737.5,173.2 739.9,174.7 742.2,176.1 C744.6,177.5 747,178.9 749.3,180.3 C751.7,181.8 754,183.1 756.4,184.5 C758.7,185.9 761.1,187.3 763.5,188.6 C765.8,190 768.2,191.3 770.5,192.7 C772.9,194 775.2,195.3 777.6,196.6 C780,198 782.3,199.3 784.7,200.5 C787,201.8 789.4,203.1 791.7,204.4 C794.1,205.6 796.5,206.9 798.8,208.1 C801.2,209.4 803.5,210.6 805.9,211.8 C808.2,213.1 811.8,214.9 813,215.5" fill="none" stroke="#93cfcc" stroke-width="12.5" stroke-linecap="round" stroke-linejoin="round"/>
<circle cx="176.7" cy="215.5" r="6.6" fill="#fff" fill-opacity="0.85" stroke="#008080" stroke-opacity="0.6" stroke-width="1"/>
<path d="M176.7,176.2 C177.8,175.5 181.4,173.3 183.7,171.8 C186.1,170.3 188.4,168.8 190.8,167.3 C193.1,165.7 195.5,164.2 197.9,162.7 C200.2,161.2 202.6,159.7 204.9,158.2 C207.3,156.7 209.6,155.2 212,153.6 C214.4,152.1 216.7,150.6 219.1,149.1 C221.4,147.5 223.8,146 226.1,144.5 C228.5,143 230.9,141.4 233.2,139.9 C235.6,138.4 237.9,136.8 240.3,135.3 C242.6,133.8 245,132.2 247.4,130.7 C249.7,129.2 252.1,127.6 254.4,126.1 C256.8,124.6 259.1,123.1 261.5,121.5 C263.8,120 266.2,118.5 268.6,117 C270.9,115.4 273.3,113.9 275.6,112.4 C278,110.9 280.3,109.4 282.7,107.9 C285.1,106.4 287.4,104.9 289.8,103.4 C292.1,101.9 294.5,100.4 296.8,98.9 C299.2,97.4 301.6,95.9 303.9,94.4 C306.3,93 308.6,91.5 311,90.1 C313.3,88.6 315.7,87.1 318.1,85.7 C320.4,84.3 322.8,82.8 325.1,81.4 C327.5,80 329.8,78.6 332.2,77.2 C334.5,75.8 336.9,74.4 339.3,73.1 C341.6,71.7 344,70.3 346.3,69 C348.7,67.7 351,66.3 353.4,65 C355.8,63.7 358.1,62.4 360.5,61.2 C362.8,59.9 365.2,58.7 367.5,57.4 C369.9,56.2 372.3,55 374.6,53.8 C377,52.6 379.3,51.4 381.7,50.3 C384,49.2 386.4,48 388.8,46.9 C391.1,45.9 393.5,44.8 395.8,43.7 C398.2,42.7 400.5,41.7 402.9,40.7 C405.2,39.7 407.6,38.8 410,37.8 C412.3,36.9 414.7,36 417,35.2 C419.4,34.3 421.7,33.5 424.1,32.7 C426.5,31.9 428.8,31.1 431.2,30.4 C433.5,29.7 435.9,29 438.2,28.3 C440.6,27.7 443,27.1 445.3,26.5 C447.7,25.9 450,25.4 452.4,24.9 C454.7,24.4 457.1,23.9 459.5,23.5 C461.8,23.1 464.2,22.7 466.5,22.3 C468.9,22 471.2,21.7 473.6,21.5 C475.9,21.2 478.3,21 480.7,20.8 C483,20.6 485.4,20.5 487.7,20.4 C490.1,20.3 492.4,20.3 494.8,20.3 C497.2,20.3 499.5,20.3 501.9,20.4 C504.2,20.5 506.6,20.6 508.9,20.8 C511.3,21 513.7,21.2 516,21.5 C518.4,21.7 520.7,22 523.1,22.3 C525.4,22.7 527.8,23.1 530.2,23.5 C532.5,23.9 534.9,24.4 537.2,24.9 C539.6,25.4 541.9,25.9 544.3,26.5 C546.6,27.1 549,27.7 551.4,28.3 C553.7,29 556.1,29.7 558.4,30.4 C560.8,31.1 563.1,31.9 565.5,32.7 C567.9,33.5 570.2,34.3 572.6,35.2 C574.9,36 577.3,36.9 579.6,37.8 C582,38.8 584.4,39.7 586.7,40.7 C589.1,41.7 591.4,42.7 593.8,43.7 C596.1,44.8 598.5,45.9 600.9,46.9 C603.2,48 605.6,49.2 607.9,50.3 C610.3,51.4 612.6,52.6 615,53.8 C617.3,55 619.7,56.2 622.1,57.4 C624.4,58.7 626.8,59.9 629.1,61.2 C631.5,62.4 633.8,63.7 636.2,65 C638.6,66.3 640.9,67.7 643.3,69 C645.6,70.3 648,71.7 650.3,73.1 C652.7,74.4 655.1,75.8 657.4,77.2 C659.8,78.6 662.1,80 664.5,81.4 C666.8,82.8 669.2,84.3 671.5,85.7 C673.9,87.1 676.3,88.6 678.6,90.1 C681,91.5 683.3,93 685.7,94.4 C688,95.9 690.4,97.4 692.8,98.9 C695.1,100.4 697.5,101.9 699.8,103.4 C702.2,104.9 704.5,106.4 706.9,107.9 C709.3,109.4 711.6,110.9 714,112.4 C716.3,113.9 718.7,115.4 721,117 C723.4,118.5 725.8,120 728.1,121.5 C730.5,123.1 732.8,124.6 735.2,126.1 C737.5,127.6 739.9,129.2 742.2,130.7 C744.6,132.2 747,133.8 749.3,135.3 C751.7,136.8 754,138.4 756.4,139.9 C758.7,141.4 761.1,143 763.5,144.5 C765.8,146 768.2,147.5 770.5,149.1 C772.9,150.6 775.2,152.1 777.6,153.6 C780,155.2 782.3,156.7 784.7,158.2 C787,159.7 789.4,161.2 791.7,162.7 C794.1,164.2 796.5,165.7 798.8,167.3 C801.2,168.8 803.5,170.3 805.9,171.8 C808.2,173.3 811.8,175.5 813,176.2" fill="none" stroke="#ff8000" stroke-width="14.5" stroke-linecap="round" stroke-linejoin="round" opacity="0.85"/>
<path d="M176.7,176.2 C177.8,175.5 181.4,173.3 183.7,171.8 C186.1,170.3 188.4,168.8 190.8,167.3 C193.1,165.7 195.5,164.2 197.9,162.7 C200.2,161.2 202.6,159.7 204.9,158.2 C207.3,156.7 209.6,155.2 212,153.6 C214.4,152.1 216.7,150.6 219.1,149.1 C221.4,147.5 223.8,146 226.1,144.5 C228.5,143 230.9,141.4 233.2,139.9 C235.6,138.4 237.9,136.8 240.3,135.3 C242.6,133.8 245,132.2 247.4,130.7 C249.7,129.2 252.1,127.6 254.4,126.1 C256.8,124.6 259.1,123.1 261.5,121.5 C263.8,120 266.2,118.5 268.6,117 C270.9,115.4 273.3,113.9 275.6,112.4 C278,110.9 280.3,109.4 282.7,107.9 C285.1,106.4 287.4,104.9 289.8,103.4 C292.1,101.9 294.5,100.4 296.8,98.9 C299.2,97.4 301.6,95.9 303.9,94.4 C306.3,93 308.6,91.5 311,90.1 C313.3,88.6 315.7,87.1 318.1,85.7 C320.4,84.3 322.8,82.8 325.1,81.4 C327.5,80 329.8,78.6 332.2,77.2 C334.5,75.8 336.9,74.4 339.3,73.1 C341.6,71.7 344,70.3 346.3,69 C348.7,67.7 351,66.3 353.4,65 C355.8,63.7 358.1,62.4 360.5,61.2 C362.8,59.9 365.2,58.7 367.5,57.4 C369.9,56.2 372.3,55 374.6,53.8 C377,52.6 379.3,51.4 381.7,50.3 C384,49.2 386.4,48 388.8,46.9 C391.1,45.9 393.5,44.8 395.8,43.7 C398.2,42.7 400.5,41.7 402.9,40.7 C405.2,39.7 407.6,38.8 410,37.8 C412.3,36.9 414.7,36 417,35.2 C419.4,34.3 421.7,33.5 424.1,32.7 C426.5,31.9 428.8,31.1 431.2,30.4 C433.5,29.7 435.9,29 438.2,28.3 C440.6,27.7 443,27.1 445.3,26.5 C447.7,25.9 450,25.4 452.4,24.9 C454.7,24.4 457.1,23.9 459.5,23.5 C461.8,23.1 464.2,22.7 466.5,22.3 C468.9,22 471.2,21.7 473.6,21.5 C475.9,21.2 478.3,21 480.7,20.8 C483,20.6 485.4,20.5 487.7,20.4 C490.1,20.3 492.4,20.3 494.8,20.3 C497.2,20.3 499.5,20.3 501.9,20.4 C504.2,20.5 506.6,20.6 508.9,20.8 C511.3,21 513.7,21.2 516,21.5 C518.4,21.7 520.7,22 523.1,22.3 C525.4,22.7 527.8,23.1 530.2,23.5 C532.5,23.9 534.9,24.4 537.2,24.9 C539.6,25.4 541.9,25.9 544.3,26.5 C546.6,27.1 549,27.7 551.4,28.3 C553.7,29 556.1,29.7 558.4,30.4 C560.8,31.1 563.1,31.9 565.5,32.7 C567.9,33.5 570.2,34.3 572.6,35.2 C574.9,36 577.3,36.9 579.6,37.8 C582,38.8 584.4,39.7 586.7,40.7 C589.1,41.7 591.4,42.7 593.8,43.7 C596.1,44.8 598.5,45.9 600.9,46.9 C603.2,48 605.6,49.2 607.9,50.3 C610.3,51.4 612.6,52.6 615,53.8 C617.3,55 619.7,56.2 622.1,57.4 C624.4,58.7 626.8,59.9 629.1,61.2 C631.5,62.4 633.8,63.7 636.2,65 C638.6,66.3 640.9,67.7 643.3,69 C645.6,70.3 648,71.7 650.3,73.1 C652.7,74.4 655.1,75.8 657.4,77.2 C659.8,78.6 662.1,80 664.5,81.4 C666.8,82.8 669.2,84.3 671.5,85.7 C673.9,87.1 676.3,88.6 678.6,90.1 C681,91.5 683.3,93 685.7,94.4 C688,95.9 690.4,97.4 692.8,98.9 C695.1,100.4 697.5,101.9 699.8,103.4 C702.2,104.9 704.5,106.4 706.9,107.9 C709.3,109.4 711.6,110.9 714,112.4 C716.3,113.9 718.7,115.4 721,117 C723.4,118.5 725.8,120 728.1,121.5 C730.5,123.1 732.8,124.6 735.2,126.1 C737.5,127.6 739.9,129.2 742.2,130.7 C744.6,132.2 747,133.8 749.3,135.3 C751.7,136.8 754,138.4 756.4,139.9 C758.7,141.4 761.1,143 763.5,144.5 C765.8,146 768.2,147.5 770.5,149.1 C772.9,150.6 775.2,152.1 777.6,153.6 C780,155.2 782.3,156.7 784.7,158.2 C787,159.7 789.4,161.2 791.7,162.7 C794.1,164.2 796.5,165.7 798.8,167.3 C801.2,168.8 803.5,170.3 805.9,171.8 C808.2,173.3 811.8,175.5 813,176.2" fill="none" stroke="#ffc996" stroke-width="12.5" stroke-linecap="round" stroke-linejoin="round"/>
<circle cx="176.7" cy="176.2" r="6.6" fill="#fff" fill-opacity="0.85" stroke="#ff8000" stroke-opacity="0.6" stroke-width="1"/>
<path d="M176.7,121.9 C177.8,121.6 181.4,120.6 183.7,120 C186.1,119.3 188.4,118.7 190.8,118.1 C193.1,117.4 195.5,116.8 197.9,116.1 C200.2,115.4 202.6,114.8 204.9,114.1 C207.3,113.4 209.6,112.8 212,112.1 C214.4,111.4 216.7,110.7 219.1,110 C221.4,109.3 223.8,108.6 226.1,107.9 C228.5,107.2 230.9,106.5 233.2,105.8 C235.6,105.1 237.9,104.3 240.3,103.6 C242.6,102.9 245,102.1 247.4,101.4 C249.7,100.6 252.1,99.9 254.4,99.1 C256.8,98.4 259.1,97.6 261.5,96.8 C263.8,96.1 266.2,95.3 268.6,94.5 C270.9,93.7 273.3,92.9 275.6,92.1 C278,91.3 280.3,90.5 282.7,89.7 C285.1,88.9 287.4,88 289.8,87.2 C292.1,86.4 294.5,85.5 296.8,84.7 C299.2,83.9 301.6,83 303.9,82.1 C306.3,81.3 308.6,80.4 311,79.5 C313.3,78.7 315.7,77.8 318.1,76.9 C320.4,76 322.8,75.1 325.1,74.2 C327.5,73.3 329.8,72.4 332.2,71.5 C334.5,70.6 336.9,69.7 339.3,68.8 C341.6,67.8 344,66.9 346.3,66 C348.7,65 351,64.1 353.4,63.1 C355.8,62.2 358.1,61.2 360.5,60.3 C362.8,59.3 365.2,58.4 367.5,57.4 C369.9,56.5 372.3,55.5 374.6,54.5 C377,53.6 379.3,52.6 381.7,51.7 C384,50.7 386.4,49.7 388.8,48.8 C391.1,47.8 393.5,46.9 395.8,45.9 C398.2,45 400.5,44.1 402.9,43.1 C405.2,42.2 407.6,41.3 410,40.4 C412.3,39.4 414.7,38.5 417,37.7 C419.4,36.8 421.7,35.9 424.1,35.1 C426.5,34.2 428.8,33.4 431.2,32.6 C433.5,31.8 435.9,31 438.2,30.3 C440.6,29.5 443,28.8 445.3,28.1 C447.7,27.4 450,26.8 452.4,26.2 C454.7,25.5 457.1,25 459.5,24.4 C461.8,23.9 464.2,23.4 466.5,23 C468.9,22.6 471.2,22.2 473.6,21.8 C475.9,21.5 478.3,21.2 480.7,21 C483,20.8 485.4,20.6 487.7,20.5 C490.1,20.4 492.4,20.3 494.8,20.3 C497.2,20.3 499.5,20.4 501.9,20.5 C504.2,20.6 506.6,20.8 508.9,21 C511.3,21.2 513.7,21.5 516,21.8 C518.4,22.2 520.7,22.6 523.1,23 C525.4,23.4 527.8,23.9 530.2,24.4 C532.5,25 534.9,25.5 537.2,26.2 C539.6,26.8 541.9,27.4 544.3,28.1 C546.6,28.8 549,29.5 551.4,30.3 C553.7,31 556.1,31.8 558.4,32.6 C560.8,33.4 563.1,34.2 565.5,35.1 C567.9,35.9 570.2,36.8 572.6,37.7 C574.9,38.5 577.3,39.4 579.6,40.4 C582,41.3 584.4,42.2 586.7,43.1 C589.1,44.1 591.4,45 593.8,45.9 C596.1,46.9 598.5,47.8 600.9,48.8 C603.2,49.7 605.6,50.7 607.9,51.7 C610.3,52.6 612.6,53.6 615,54.5 C617.3,55.5 619.7,56.5 622.1,57.4 C624.4,58.4 626.8,59.3 629.1,60.3 C631.5,61.2 633.8,62.2 636.2,63.1 C638.6,64.1 640.9,65 643.3,66 C645.6,66.9 648,67.8 650.3,68.8 C652.7,69.7 655.1,70.6 657.4,71.5 C659.8,72.4 662.1,73.3 664.5,74.2 C666.8,75.1 669.2,76 671.5,76.9 C673.9,77.8 676.3,78.7 678.6,79.5 C681,80.4 683.3,81.3 685.7,82.1 C688,83 690.4,83.9 692.8,84.7 C695.1,85.5 697.5,86.4 699.8,87.2 C702.2,88 704.5,88.9 706.9,89.7 C709.3,90.5 711.6,91.3 714,92.1 C716.3,92.9 718.7,93.7 721,94.5 C723.4,95.3 725.8,96.1 728.1,96.8 C730.5,97.6 732.8,98.4 735.2,99.1 C737.5,99.9 739.9,100.6 742.2,101.4 C744.6,102.1 747,102.9 749.3,103.6 C751.7,104.3 754,105.1 756.4,105.8 C758.7,106.5 761.1,107.2 763.5,107.9 C765.8,108.6 768.2,109.3 770.5,110 C772.9,110.7 775.2,111.4 777.6,112.1 C780,112.8 782.3,113.4 784.7,114.1 C787,114.8 789.4,115.4 791.7,116.1 C794.1,116.8 796.5,117.4 798.8,118.1 C801.2,118.7 803.5,119.3 805.9,120 C808.2,120.6 811.8,121.6 813,121.9" fill="none" stroke="#000000" stroke-width="6" stroke-linecap="round" stroke-dasharray="17.5 27.5"/>
<path d="M176.7,376.7 C177.8,375.4 181.4,371.3 183.7,368.6 C186.1,365.9 188.4,363.2 190.8,360.4 C193.1,357.7 195.5,354.9 197.9,352.2 C200.2,349.4 202.6,346.6 204.9,343.8 C207.3,340.9 209.6,338.1 212,335.3 C214.4,332.4 216.7,329.5 219.1,326.6 C221.4,323.8 223.8,320.9 226.1,317.9 C228.5,315 230.9,312.1 233.2,309.1 C235.6,306.2 237.9,303.2 240.3,300.2 C242.6,297.2 245,294.2 247.4,291.2 C249.7,288.1 252.1,285.1 254.4,282 C256.8,279 259.1,275.9 261.5,272.8 C263.8,269.7 266.2,266.6 268.6,263.5 C270.9,260.4 273.3,257.3 275.6,254.1 C278,251 280.3,247.8 282.7,244.6 C285.1,241.4 287.4,238.2 289.8,235 C292.1,231.8 294.5,228.6 296.8,225.4 C299.2,222.2 301.6,218.9 303.9,215.7 C306.3,212.4 308.6,209.2 311,205.9 C313.3,202.7 315.7,199.4 318.1,196.1 C320.4,192.9 322.8,189.6 325.1,186.3 C327.5,183 329.8,179.7 332.2,176.5 C334.5,173.2 336.9,169.9 339.3,166.6 C341.6,163.3 344,160.1 346.3,156.8 C348.7,153.5 351,150.3 353.4,147 C355.8,143.8 358.1,140.6 360.5,137.4 C362.8,134.1 365.2,130.9 367.5,127.8 C369.9,124.6 372.3,121.4 374.6,118.3 C377,115.2 379.3,112.1 381.7,109 C384,106 386.4,102.9 388.8,99.9 C391.1,96.9 393.5,94 395.8,91.1 C398.2,88.2 400.5,85.3 402.9,82.5 C405.2,79.8 407.6,77 410,74.3 C412.3,71.7 414.7,69.1 417,66.5 C419.4,64 421.7,61.5 424.1,59.1 C426.5,56.8 428.8,54.5 431.2,52.2 C433.5,50 435.9,47.9 438.2,45.9 C440.6,43.9 443,42 445.3,40.2 C447.7,38.3 450,36.6 452.4,35.1 C454.7,33.5 457.1,32 459.5,30.6 C461.8,29.3 464.2,28.1 466.5,27 C468.9,25.9 471.2,24.9 473.6,24.1 C475.9,23.2 478.3,22.5 480.7,22 C483,21.4 485.4,21 487.7,20.7 C490.1,20.4 492.4,20.3 494.8,20.3 C497.2,20.3 499.5,20.4 501.9,20.7 C504.2,21 506.6,21.4 508.9,22 C511.3,22.5 513.7,23.2 516,24.1 C518.4,24.9 520.7,25.9 523.1,27 C525.4,28.1 527.8,29.3 530.2,30.6 C532.5,32 534.9,33.5 537.2,35.1 C539.6,36.6 541.9,38.3 544.3,40.2 C546.6,42 549,43.9 551.4,45.9 C553.7,47.9 556.1,50 558.4,52.2 C560.8,54.5 563.1,56.8 565.5,59.1 C567.9,61.5 570.2,64 572.6,66.5 C574.9,69.1 577.3,71.7 579.6,74.3 C582,77 584.4,79.8 586.7,82.5 C589.1,85.3 591.4,88.2 593.8,91.1 C596.1,94 598.5,96.9 600.9,99.9 C603.2,102.9 605.6,106 607.9,109 C610.3,112.1 612.6,115.2 615,118.3 C617.3,121.4 619.7,124.6 622.1,127.8 C624.4,130.9 626.8,134.1 629.1,137.4 C631.5,140.6 633.8,143.8 636.2,147 C638.6,150.3 640.9,153.5 643.3,156.8 C645.6,160.1 648,163.3 650.3,166.6 C652.7,169.9 655.1,173.2 657.4,176.5 C659.8,179.7 662.1,183 664.5,186.3 C666.8,189.6 669.2,192.9 671.5,196.1 C673.9,199.4 676.3,202.7 678.6,205.9 C681,209.2 683.3,212.4 685.7,215.7 C688,218.9 690.4,222.2 692.8,225.4 C695.1,228.6 697.5,231.8 699.8,235 C702.2,238.2 704.5,241.4 706.9,244.6 C709.3,247.8 711.6,251 714,254.1 C716.3,257.3 718.7,260.4 721,263.5 C723.4,266.6 725.8,269.7 728.1,272.8 C730.5,275.9 732.8,279 735.2,282 C737.5,285.1 739.9,288.1 742.2,291.2 C744.6,294.2 747,297.2 749.3,300.2 C751.7,303.2 754,306.2 756.4,309.1 C758.7,312.1 761.1,315 763.5,317.9 C765.8,320.9 768.2,323.8 770.5,326.6 C772.9,329.5 775.2,332.4 777.6,335.3 C780,338.1 782.3,340.9 784.7,343.8 C787,346.6 789.4,349.4 791.7,352.2 C794.1,354.9 796.5,357.7 798.8,360.4 C801.2,363.2 803.5,365.9 805.9,368.6 C808.2,371.3 811.8,375.4 813,376.7" fill="none" stroke="#0000ff" stroke-width="6" stroke-linecap="round" stroke-dasharray="17.5 27.5"/>
<path d="M176.7,492.2 C177.8,490.5 181.4,485.3 183.7,481.9 C186.1,478.4 188.4,475 190.8,471.5 C193.1,468 195.5,464.4 197.9,460.9 C200.2,457.3 202.6,453.8 204.9,450.2 C207.3,446.6 209.6,443 212,439.3 C214.4,435.7 216.7,432 219.1,428.3 C221.4,424.6 223.8,420.9 226.1,417.1 C228.5,413.4 230.9,409.6 233.2,405.8 C235.6,402 237.9,398.2 240.3,394.4 C242.6,390.5 245,386.6 247.4,382.7 C249.7,378.8 252.1,374.9 254.4,371 C256.8,367 259.1,363.1 261.5,359.1 C263.8,355.1 266.2,351.1 268.6,347 C270.9,343 273.3,338.9 275.6,334.8 C278,330.7 280.3,326.6 282.7,322.5 C285.1,318.4 287.4,314.2 289.8,310.1 C292.1,305.9 294.5,301.7 296.8,297.5 C299.2,293.3 301.6,289 303.9,284.8 C306.3,280.5 308.6,276.3 311,272 C313.3,267.7 315.7,263.4 318.1,259.1 C320.4,254.8 322.8,250.5 325.1,246.2 C327.5,241.9 329.8,237.5 332.2,233.2 C334.5,228.9 336.9,224.5 339.3,220.2 C341.6,215.8 344,211.5 346.3,207.1 C348.7,202.8 351,198.4 353.4,194.1 C355.8,189.8 358.1,185.5 360.5,181.2 C362.8,176.8 365.2,172.6 367.5,168.3 C369.9,164 372.3,159.8 374.6,155.6 C377,151.3 379.3,147.1 381.7,143 C384,138.8 386.4,134.7 388.8,130.7 C391.1,126.6 393.5,122.6 395.8,118.6 C398.2,114.7 400.5,110.8 402.9,107 C405.2,103.1 407.6,99.4 410,95.7 C412.3,92 414.7,88.4 417,84.9 C419.4,81.4 421.7,78 424.1,74.7 C426.5,71.4 428.8,68.2 431.2,65.1 C433.5,62.1 435.9,59.1 438.2,56.3 C440.6,53.5 443,50.8 445.3,48.3 C447.7,45.7 450,43.3 452.4,41.1 C454.7,38.9 457.1,36.8 459.5,34.9 C461.8,33 464.2,31.3 466.5,29.7 C468.9,28.2 471.2,26.8 473.6,25.6 C475.9,24.5 478.3,23.5 480.7,22.7 C483,21.9 485.4,21.3 487.7,20.9 C490.1,20.5 492.4,20.3 494.8,20.3 C497.2,20.3 499.5,20.5 501.9,20.9 C504.2,21.3 506.6,21.9 508.9,22.7 C511.3,23.5 513.7,24.5 516,25.6 C518.4,26.8 520.7,28.2 523.1,29.7 C525.4,31.3 527.8,33 530.2,34.9 C532.5,36.8 534.9,38.9 537.2,41.1 C539.6,43.3 541.9,45.7 544.3,48.3 C546.6,50.8 549,53.5 551.4,56.3 C553.7,59.1 556.1,62.1 558.4,65.1 C560.8,68.2 563.1,71.4 565.5,74.7 C567.9,78 570.2,81.4 572.6,84.9 C574.9,88.4 577.3,92 579.6,95.7 C582,99.4 584.4,103.1 586.7,107 C589.1,110.8 591.4,114.7 593.8,118.6 C596.1,122.6 598.5,126.6 600.9,130.7 C603.2,134.7 605.6,138.8 607.9,143 C610.3,147.1 612.6,151.3 615,155.6 C617.3,159.8 619.7,164 622.1,168.3 C624.4,172.6 626.8,176.8 629.1,181.2 C631.5,185.5 633.8,189.8 636.2,194.1 C638.6,198.4 640.9,202.8 643.3,207.1 C645.6,211.5 648,215.8 650.3,220.2 C652.7,224.5 655.1,228.9 657.4,233.2 C659.8,237.5 662.1,241.9 664.5,246.2 C666.8,250.5 669.2,254.8 671.5,259.1 C673.9,263.4 676.3,267.7 678.6,272 C681,276.3 683.3,280.5 685.7,284.8 C688,289 690.4,293.3 692.8,297.5 C695.1,301.7 697.5,305.9 699.8,310.1 C702.2,314.2 704.5,318.4 706.9,322.5 C709.3,326.6 711.6,330.7 714,334.8 C716.3,338.9 718.7,343 721,347 C723.4,351.1 725.8,355.1 728.1,359.1 C730.5,363.1 732.8,367 735.2,371 C737.5,374.9 739.9,378.8 742.2,382.7 C744.6,386.6 747,390.5 749.3,394.4 C751.7,398.2 754,402 756.4,405.8 C758.7,409.6 761.1,413.4 763.5,417.1 C765.8,420.9 768.2,424.6 770.5,428.3 C772.9,432 775.2,435.7 777.6,439.3 C780,443 782.3,446.6 784.7,450.2 C787,453.8 789.4,457.3 791.7,460.9 C794.1,464.4 796.5,468 798.8,471.5 C801.2,475 803.5,478.4 805.9,481.9 C808.2,485.3 811.8,490.5 813,492.2" fill="none" stroke="#808000" stroke-width="6" stroke-linecap="round" stroke-dasharray="17.5 27.5"/>
<path d="M176.7,218.5 C177.8,217.8 181.4,216 183.7,214.8 C186.1,213.5 188.4,212.3 190.8,211 C193.1,209.8 195.5,208.5 197.9,207.2 C200.2,205.9 202.6,204.6 204.9,203.3 C207.3,202 209.6,200.7 212,199.3 C214.4,198 216.7,196.7 219.1,195.3 C221.4,194 223.8,192.6 226.1,191.2 C228.5,189.8 230.9,188.5 233.2,187 C235.6,185.6 237.9,184.2 240.3,182.8 C242.6,181.4 245,179.9 247.4,178.5 C249.7,177 252.1,175.6 254.4,174.1 C256.8,172.6 259.1,171.1 261.5,169.6 C263.8,168.1 266.2,166.6 268.6,165 C270.9,163.5 273.3,161.9 275.6,160.4 C278,158.8 280.3,157.2 282.7,155.6 C285.1,154.1 287.4,152.4 289.8,150.8 C292.1,149.2 294.5,147.6 296.8,145.9 C299.2,144.3 301.6,142.6 303.9,140.9 C306.3,139.3 308.6,137.6 311,135.9 C313.3,134.2 315.7,132.5 318.1,130.7 C320.4,129 322.8,127.3 325.1,125.5 C327.5,123.7 329.8,122 332.2,120.2 C334.5,118.4 336.9,116.6 339.3,114.8 C341.6,113 344,111.2 346.3,109.4 C348.7,107.6 351,105.7 353.4,103.9 C355.8,102 358.1,100.2 360.5,98.3 C362.8,96.5 365.2,94.6 367.5,92.7 C369.9,90.9 372.3,89 374.6,87.1 C377,85.2 379.3,83.4 381.7,81.5 C384,79.6 386.4,77.8 388.8,75.9 C391.1,74 393.5,72.2 395.8,70.3 C398.2,68.5 400.5,66.6 402.9,64.8 C405.2,63 407.6,61.2 410,59.4 C412.3,57.7 414.7,55.9 417,54.2 C419.4,52.5 421.7,50.8 424.1,49.1 C426.5,47.5 428.8,45.8 431.2,44.3 C433.5,42.7 435.9,41.2 438.2,39.7 C440.6,38.3 443,36.9 445.3,35.5 C447.7,34.2 450,32.9 452.4,31.7 C454.7,30.5 457.1,29.4 459.5,28.4 C461.8,27.3 464.2,26.4 466.5,25.5 C468.9,24.7 471.2,23.9 473.6,23.3 C475.9,22.6 478.3,22.1 480.7,21.6 C483,21.2 485.4,20.9 487.7,20.6 C490.1,20.4 492.4,20.3 494.8,20.3 C497.2,20.3 499.5,20.4 501.9,20.6 C504.2,20.9 506.6,21.2 508.9,21.6 C511.3,22.1 513.7,22.6 516,23.3 C518.4,23.9 520.7,24.7 523.1,25.5 C525.4,26.4 527.8,27.3 530.2,28.4 C532.5,29.4 534.9,30.5 537.2,31.7 C539.6,32.9 541.9,34.2 544.3,35.5 C546.6,36.9 549,38.3 551.4,39.7 C553.7,41.2 556.1,42.7 558.4,44.3 C560.8,45.8 563.1,47.5 565.5,49.1 C567.9,50.8 570.2,52.5 572.6,54.2 C574.9,55.9 577.3,57.7 579.6,59.4 C582,61.2 584.4,63 586.7,64.8 C589.1,66.6 591.4,68.5 593.8,70.3 C596.1,72.2 598.5,74 600.9,75.9 C603.2,77.8 605.6,79.6 607.9,81.5 C610.3,83.4 612.6,85.2 615,87.1 C617.3,89 619.7,90.9 622.1,92.7 C624.4,94.6 626.8,96.5 629.1,98.3 C631.5,100.2 633.8,102 636.2,103.9 C638.6,105.7 640.9,107.6 643.3,109.4 C645.6,111.2 648,113 650.3,114.8 C652.7,116.6 655.1,118.4 657.4,120.2 C659.8,122 662.1,123.7 664.5,125.5 C666.8,127.3 669.2,129 671.5,130.7 C673.9,132.5 676.3,134.2 678.6,135.9 C681,137.6 683.3,139.3 685.7,140.9 C688,142.6 690.4,144.3 692.8,145.9 C695.1,147.6 697.5,149.2 699.8,150.8 C702.2,152.4 704.5,154.1 706.9,155.6 C709.3,157.2 711.6,158.8 714,160.4 C716.3,161.9 718.7,163.5 721,165 C723.4,166.6 725.8,168.1 728.1,169.6 C730.5,171.1 732.8,172.6 735.2,174.1 C737.5,175.6 739.9,177 742.2,178.5 C744.6,179.9 747,181.4 749.3,182.8 C751.7,184.2 754,185.6 756.4,187 C758.7,188.5 761.1,189.8 763.5,191.2 C765.8,192.6 768.2,194 770.5,195.3 C772.9,196.7 775.2,198 777.6,199.3 C780,200.7 782.3,202 784.7,203.3 C787,204.6 789.4,205.9 791.7,207.2 C794.1,208.5 796.5,209.8 798.8,211 C801.2,212.3 803.5,213.5 805.9,214.8 C808.2,216 811.8,217.8 813,218.5" fill="none" stroke="#008080" stroke-width="6" stroke-linecap="round" stroke-dasharray="17.5 27.5"/>
<path d="M176.7,176.2 C177.8,175.5 181.4,173.3 183.7,171.8 C186.1,170.3 188.4,168.8 190.8,167.3 C193.1,165.7 195.5,164.2 197.9,162.7 C200.2,161.2 202.6,159.7 204.9,158.2 C207.3,156.7 209.6,155.2 212,153.6 C214.4,152.1 216.7,150.6 219.1,149.1 C221.4,147.5 223.8,146 226.1,144.5 C228.5,143 230.9,141.4 233.2,139.9 C235.6,138.4 237.9,136.8 240.3,135.3 C242.6,133.8 245,132.2 247.4,130.7 C249.7,129.2 252.1,127.6 254.4,126.1 C256.8,124.6 259.1,123.1 261.5,121.5 C263.8,120 266.2,118.5 268.6,117 C270.9,115.4 273.3,113.9 275.6,112.4 C278,110.9 280.3,109.4 282.7,107.9 C285.1,106.4 287.4,104.9 289.8,103.4 C292.1,101.9 294.5,100.4 296.8,98.9 C299.2,97.4 301.6,95.9 303.9,94.4 C306.3,93 308.6,91.5 311,90.1 C313.3,88.6 315.7,87.1 318.1,85.7 C320.4,84.3 322.8,82.8 325.1,81.4 C327.5,80 329.8,78.6 332.2,77.2 C334.5,75.8 336.9,74.4 339.3,73.1 C341.6,71.7 344,70.3 346.3,69 C348.7,67.7 351,66.3 353.4,65 C355.8,63.7 358.1,62.4 360.5,61.2 C362.8,59.9 365.2,58.7 367.5,57.4 C369.9,56.2 372.3,55 374.6,53.8 C377,52.6 379.3,51.4 381.7,50.3 C384,49.2 386.4,48 388.8,46.9 C391.1,45.9 393.5,44.8 395.8,43.7 C398.2,42.7 400.5,41.7 402.9,40.7 C405.2,39.7 407.6,38.8 410,37.8 C412.3,36.9 414.7,36 417,35.2 C419.4,34.3 421.7,33.5 424.1,32.7 C426.5,31.9 428.8,31.1 431.2,30.4 C433.5,29.7 435.9,29 438.2,28.3 C440.6,27.7 443,27.1 445.3,26.5 C447.7,25.9 450,25.4 452.4,24.9 C454.7,24.4 457.1,23.9 459.5,23.5 C461.8,23.1 464.2,22.7 466.5,22.3 C468.9,22 471.2,21.7 473.6,21.5 C475.9,21.2 478.3,21 480.7,20.8 C483,20.6 485.4,20.5 487.7,20.4 C490.1,20.3 492.4,20.3 494.8,20.3 C497.2,20.3 499.5,20.3 501.9,20.4 C504.2,20.5 506.6,20.6 508.9,20.8 C511.3,21 513.7,21.2 516,21.5 C518.4,21.7 520.7,22 523.1,22.3 C525.4,22.7 527.8,23.1 530.2,23.5 C532.5,23.9 534.9,24.4 537.2,24.9 C539.6,25.4 541.9,25.9 544.3,26.5 C546.6,27.1 549,27.7 551.4,28.3 C553.7,29 556.1,29.7 558.4,30.4 C560.8,31.1 563.1,31.9 565.5,32.7 C567.9,33.5 570.2,34.3 572.6,35.2 C574.9,36 577.3,36.9 579.6,37.8 C582,38.8 584.4,39.7 586.7,40.7 C589.1,41.7 591.4,42.7 593.8,43.7 C596.1,44.8 598.5,45.9 600.9,46.9 C603.2,48 605.6,49.2 607.9,50.3 C610.3,51.4 612.6,52.6 615,53.8 C617.3,55 619.7,56.2 622.1,57.4 C624.4,58.7 626.8,59.9 629.1,61.2 C631.5,62.4 633.8,63.7 636.2,65 C638.6,66.3 640.9,67.7 643.3,69 C645.6,70.3 648,71.7 650.3,73.1 C652.7,74.4 655.1,75.8 657.4,77.2 C659.8,78.6 662.1,80 664.5,81.4 C666.8,82.8 669.2,84.3 671.5,85.7 C673.9,87.1 676.3,88.6 678.6,90.1 C681,91.5 683.3,93 685.7,94.4 C688,95.9 690.4,97.4 692.8,98.9 C695.1,100.4 697.5,101.9 699.8,103.4 C702.2,104.9 704.5,106.4 706.9,107.9 C709.3,109.4 711.6,110.9 714,112.4 C716.3,113.9 718.7,115.4 721,117 C723.4,118.5 725.8,120 728.1,121.5 C730.5,123.1 732.8,124.6 735.2,126.1 C737.5,127.6 739.9,129.2 742.2,130.7 C744.6,132.2 747,133.8 749.3,135.3 C751.7,136.8 754,138.4 756.4,139.9 C758.7,141.4 761.1,143 763.5,144.5 C765.8,146 768.2,147.5 770.5,149.1 C772.9,150.6 775.2,152.1 777.6,153.6 C780,155.2 782.3,156.7 784.7,158.2 C787,159.7 789.4,161.2 791.7,162.7 C794.1,164.2 796.5,165.7 798.8,167.3 C801.2,168.8 803.5,170.3 805.9,171.8 C808.2,173.3 811.8,175.5 813,176.2" fill="none" stroke="#ff8000" stroke-width="6" stroke-linecap="round" stroke-dasharray="17.5 27.5"/>
<path d="M141.3,516.0 L141.3,9.0 L848.3,9.0 L848.3,516.0 Z" fill="none" stroke="#000" stroke-width="3.6" stroke-linejoin="round"/>
<line x1="176.7" y1="516" x2="176.7" y2="510.5" stroke="#000" stroke-width="3.6" stroke-linecap="round" />
<line x1="212" y1="516" x2="212" y2="505" stroke="#000" stroke-width="3.6" stroke-linecap="round" />
<line x1="247.4" y1="516" x2="247.4" y2="510.5" stroke="#000" stroke-width="3.6" stroke-linecap="round" />
<line x1="282.7" y1="516" x2="282.7" y2="505" stroke="#000" stroke-width="3.6" stroke-linecap="round" />
<line x1="318.1" y1="516" x2="318.1" y2="510.5" stroke="#000" stroke-width="3.6" stroke-linecap="round" />
<line x1="353.4" y1="516" x2="353.4" y2="505" stroke="#000" stroke-width="3.6" stroke-linecap="round" />
<line x1="388.8" y1="516" x2="388.8" y2="510.5" stroke="#000" stroke-width="3.6" stroke-linecap="round" />
<line x1="424.1" y1="516" x2="424.1" y2="505" stroke="#000" stroke-width="3.6" stroke-linecap="round" />
<line x1="459.5" y1="516" x2="459.5" y2="510.5" stroke="#000" stroke-width="3.6" stroke-linecap="round" />
<line x1="494.8" y1="516" x2="494.8" y2="505" stroke="#000" stroke-width="3.6" stroke-linecap="round" />
<line x1="530.2" y1="516" x2="530.2" y2="510.5" stroke="#000" stroke-width="3.6" stroke-linecap="round" />
<line x1="565.5" y1="516" x2="565.5" y2="505" stroke="#000" stroke-width="3.6" stroke-linecap="round" />
<line x1="600.9" y1="516" x2="600.9" y2="510.5" stroke="#000" stroke-width="3.6" stroke-linecap="round" />
<line x1="636.2" y1="516" x2="636.2" y2="505" stroke="#000" stroke-width="3.6" stroke-linecap="round" />
<line x1="671.5" y1="516" x2="671.5" y2="510.5" stroke="#000" stroke-width="3.6" stroke-linecap="round" />
<line x1="706.9" y1="516" x2="706.9" y2="505" stroke="#000" stroke-width="3.6" stroke-linecap="round" />
<line x1="742.2" y1="516" x2="742.2" y2="510.5" stroke="#000" stroke-width="3.6" stroke-linecap="round" />
<line x1="777.6" y1="516" x2="777.6" y2="505" stroke="#000" stroke-width="3.6" stroke-linecap="round" />
<line x1="813" y1="516" x2="813" y2="510.5" stroke="#000" stroke-width="3.6" stroke-linecap="round" />
<text x="141.3" y="555.5" font-size="35.5" text-anchor="middle" fill="#000" font-family='"Liberation Sans", Arial, sans-serif' >-10</text>
<text x="212" y="555.5" font-size="35.5" text-anchor="middle" fill="#000" font-family='"Liberation Sans", Arial, sans-serif' >-8</text>
<text x="282.7" y="555.5" font-size="35.5" text-anchor="middle" fill="#000" font-family='"Liberation Sans", Arial, sans-serif' >-6</text>
<text x="353.4" y="555.5" font-size="35.5" text-anchor="middle" fill="#000" font-family='"Liberation Sans", Arial, sans-serif' >-4</text>
<text x="424.1" y="555.5" font-size="35.5" text-anchor="middle" fill="#000" font-family='"Liberation Sans", Arial, sans-serif' >-2</text>
<text x="494.8" y="555.5" font-size="35.5" text-anchor="middle" fill="#000" font-family='"Liberation Sans", Arial, sans-serif' >0</text>
<text x="565.5" y="555.5" font-size="35.5" text-anchor="middle" fill="#000" font-family='"Liberation Sans", Arial, sans-serif' >2</text>
<text x="636.2" y="555.5" font-size="35.5" text-anchor="middle" fill="#000" font-family='"Liberation Sans", Arial, sans-serif' >4</text>
<text x="706.9" y="555.5" font-size="35.5" text-anchor="middle" fill="#000" font-family='"Liberation Sans", Arial, sans-serif' >6</text>
<text x="777.6" y="555.5" font-size="35.5" text-anchor="middle" fill="#000" font-family='"Liberation Sans", Arial, sans-serif' >8</text>
<text x="848.3" y="555.5" font-size="35.5" text-anchor="middle" fill="#000" font-family='"Liberation Sans", Arial, sans-serif' >10</text>
<line x1="141.3" y1="20.3" x2="152.3" y2="20.3" stroke="#000" stroke-width="3.6" stroke-linecap="round" />
<text x="129.5" y="31.8" font-size="35.5" text-anchor="end" fill="#000" font-family='"Liberation Sans", Arial, sans-serif' >0.00</text>
<line x1="141.3" y1="49.8" x2="146.8" y2="49.8" stroke="#000" stroke-width="3.6" stroke-linecap="round" />
<line x1="141.3" y1="79.3" x2="152.3" y2="79.3" stroke="#000" stroke-width="3.6" stroke-linecap="round" />
<text x="129.5" y="90.8" font-size="35.5" text-anchor="end" fill="#000" font-family='"Liberation Sans", Arial, sans-serif' >-0.05</text>
<line x1="141.3" y1="108.8" x2="146.8" y2="108.8" stroke="#000" stroke-width="3.6" stroke-linecap="round" />
<line x1="141.3" y1="138.3" x2="152.3" y2="138.3" stroke="#000" stroke-width="3.6" stroke-linecap="round" />
<text x="129.5" y="149.8" font-size="35.5" text-anchor="end" fill="#000" font-family='"Liberation Sans", Arial, sans-serif' >-0.10</text>
<line x1="141.3" y1="167.8" x2="146.8" y2="167.8" stroke="#000" stroke-width="3.6" stroke-linecap="round" />
<line x1="141.3" y1="197.3" x2="152.3" y2="197.3" stroke="#000" stroke-width="3.6" stroke-linecap="round" />
<text x="129.5" y="208.8" font-size="35.5" text-anchor="end" fill="#000" font-family='"Liberation Sans", Arial, sans-serif' >-0.15</text>
<line x1="141.3" y1="226.8" x2="146.8" y2="226.8" stroke="#000" stroke-width="3.6" stroke-linecap="round" />
<line x1="141.3" y1="256.3" x2="152.3" y2="256.3" stroke="#000" stroke-width="3.6" stroke-linecap="round" />
<text x="129.5" y="267.8" font-size="35.5" text-anchor="end" fill="#000" font-family='"Liberation Sans", Arial, sans-serif' >-0.20</text>
<line x1="141.3" y1="285.8" x2="146.8" y2="285.8" stroke="#000" stroke-width="3.6" stroke-linecap="round" />
<line x1="141.3" y1="315.3" x2="152.3" y2="315.3" stroke="#000" stroke-width="3.6" stroke-linecap="round" />
<text x="129.5" y="326.8" font-size="35.5" text-anchor="end" fill="#000" font-family='"Liberation Sans", Arial, sans-serif' >-0.25</text>
<line x1="141.3" y1="344.8" x2="146.8" y2="344.8" stroke="#000" stroke-width="3.6" stroke-linecap="round" />
<line x1="141.3" y1="374.3" x2="152.3" y2="374.3" stroke="#000" stroke-width="3.6" stroke-linecap="round" />
<text x="129.5" y="385.8" font-size="35.5" text-anchor="end" fill="#000" font-family='"Liberation Sans", Arial, sans-serif' >-0.30</text>
<line x1="141.3" y1="403.8" x2="146.8" y2="403.8" stroke="#000" stroke-width="3.6" stroke-linecap="round" />
<line x1="141.3" y1="433.3" x2="152.3" y2="433.3" stroke="#000" stroke-width="3.6" stroke-linecap="round" />
<text x="129.5" y="444.8" font-size="35.5" text-anchor="end" fill="#000" font-family='"Liberation Sans", Arial, sans-serif' >-0.35</text>
<line x1="141.3" y1="462.8" x2="146.8" y2="462.8" stroke="#000" stroke-width="3.6" stroke-linecap="round" />
<line x1="141.3" y1="492.3" x2="152.3" y2="492.3" stroke="#000" stroke-width="3.6" stroke-linecap="round" />
<text x="129.5" y="503.8" font-size="35.5" text-anchor="end" fill="#000" font-family='"Liberation Sans", Arial, sans-serif' >-0.40</text>
<text x="504.2" y="602" font-size="32.5" text-anchor="middle" fill="#000" font-family='"Liberation Sans", Arial, sans-serif' >B (T)</text>
<text x="31" y="267" font-size="35.5" text-anchor="middle" fill="#000" font-family='"Liberation Sans", Arial, sans-serif' transform="rotate(-90 31 267)">MR (%)</text>
<text x="194.3" y="61" font-size="46.5" text-anchor="middle" fill="#000" font-family='"Liberation Sans", Arial, sans-serif' >(a)</text>
<line x1="417.5" y1="226.3" x2="495.5" y2="226.3" stroke="#000000" stroke-width="5.5" stroke-linecap="round" />
<circle cx="455.8" cy="226.3" r="6.8" fill="#fff" stroke="#000000" stroke-width="1.6"/>
<text x="504" y="238.1" font-size="34.8" text-anchor="start" fill="#000" font-family='"Liberation Sans", Arial, sans-serif' >x=0.0</text>
<line x1="417.5" y1="269.1" x2="495.5" y2="269.1" stroke="#0000ff" stroke-width="5.5" stroke-linecap="round" />
<circle cx="455.8" cy="269.1" r="6.8" fill="#fff" stroke="#0000ff" stroke-width="1.6"/>
<text x="504" y="280.9" font-size="34.8" text-anchor="start" fill="#000" font-family='"Liberation Sans", Arial, sans-serif' >x=0.2</text>
<line x1="417.5" y1="311.9" x2="495.5" y2="311.9" stroke="#808000" stroke-width="5.5" stroke-linecap="round" />
<circle cx="455.8" cy="311.9" r="6.8" fill="#fff" stroke="#808000" stroke-width="1.6"/>
<text x="504" y="323.7" font-size="34.8" text-anchor="start" fill="#000" font-family='"Liberation Sans", Arial, sans-serif' >x=0.3</text>
<line x1="417.5" y1="354.7" x2="495.5" y2="354.7" stroke="#008080" stroke-width="5.5" stroke-linecap="round" />
<circle cx="455.8" cy="354.7" r="6.8" fill="#fff" stroke="#008080" stroke-width="1.6"/>
<text x="504" y="366.5" font-size="34.8" text-anchor="start" fill="#000" font-family='"Liberation Sans", Arial, sans-serif' >x=0.4</text>
<line x1="417.5" y1="397.5" x2="495.5" y2="397.5" stroke="#ff8000" stroke-width="5.5" stroke-linecap="round" />
<circle cx="455.8" cy="397.5" r="6.8" fill="#fff" stroke="#ff8000" stroke-width="1.6"/>
<text x="504" y="409.3" font-size="34.8" text-anchor="start" fill="#000" font-family='"Liberation Sans", Arial, sans-serif' >x=0.6</text>
<path d="M1044.0,256.0 L1044.0,5.0 L1736.2,5.0 L1736.2,256.0" fill="none" stroke="#000" stroke-width="4.6" stroke-linejoin="round"/>
<path d="M1044.0,267.0 L1044.0,519.4 L1736.2,519.4 L1736.2,267.0" fill="none" stroke="#000" stroke-width="4.6" stroke-linejoin="round"/>
<line x1="1033.6" y1="263.1" x2="1054.4" y2="253.7" stroke="#000" stroke-width="4.2" stroke-linecap="round" />
<line x1="1033.6" y1="271.4" x2="1054.4" y2="262" stroke="#000" stroke-width="4.2" stroke-linecap="round" />
<line x1="1725.8" y1="263.1" x2="1746.6" y2="253.7" stroke="#000" stroke-width="4.2" stroke-linecap="round" />
<line x1="1725.8" y1="271.4" x2="1746.6" y2="262" stroke="#000" stroke-width="4.2" stroke-linecap="round" />
<line x1="1101.7" y1="519.4" x2="1101.7" y2="515.4" stroke="#000" stroke-width="4.6" stroke-linecap="round" />
<line x1="1159.4" y1="519.4" x2="1159.4" y2="510.9" stroke="#000" stroke-width="4.6" stroke-linecap="round" />
<line x1="1217" y1="519.4" x2="1217" y2="515.4" stroke="#000" stroke-width="4.6" stroke-linecap="round" />
<line x1="1274.7" y1="519.4" x2="1274.7" y2="510.9" stroke="#000" stroke-width="4.6" stroke-linecap="round" />
<line x1="1332.4" y1="519.4" x2="1332.4" y2="515.4" stroke="#000" stroke-width="4.6" stroke-linecap="round" />
<line x1="1390.1" y1="519.4" x2="1390.1" y2="510.9" stroke="#000" stroke-width="4.6" stroke-linecap="round" />
<line x1="1447.8" y1="519.4" x2="1447.8" y2="515.4" stroke="#000" stroke-width="4.6" stroke-linecap="round" />
<line x1="1505.5" y1="519.4" x2="1505.5" y2="510.9" stroke="#000" stroke-width="4.6" stroke-linecap="round" />
<line x1="1563.2" y1="519.4" x2="1563.2" y2="515.4" stroke="#000" stroke-width="4.6" stroke-linecap="round" />
<line x1="1620.8" y1="519.4" x2="1620.8" y2="510.9" stroke="#000" stroke-width="4.6" stroke-linecap="round" />
<line x1="1678.5" y1="519.4" x2="1678.5" y2="515.4" stroke="#000" stroke-width="4.6" stroke-linecap="round" />
<text x="1044" y="562" font-size="39" text-anchor="middle" fill="#000" font-family='"Liberation Sans", Arial, sans-serif' >0</text>
<text x="1159.4" y="562" font-size="39" text-anchor="middle" fill="#000" font-family='"Liberation Sans", Arial, sans-serif' >50</text>
<text x="1274.7" y="562" font-size="39" text-anchor="middle" fill="#000" font-family='"Liberation Sans", Arial, sans-serif' >100</text>
<text x="1390.1" y="562" font-size="39" text-anchor="middle" fill="#000" font-family='"Liberation Sans", Arial, sans-serif' >150</text>
<text x="1505.5" y="562" font-size="39" text-anchor="middle" fill="#000" font-family='"Liberation Sans", Arial, sans-serif' >200</text>
<text x="1620.8" y="562" font-size="39" text-anchor="middle" fill="#000" font-family='"Liberation Sans", Arial, sans-serif' >250</text>
<text x="1736.2" y="562" font-size="39" text-anchor="middle" fill="#000" font-family='"Liberation Sans", Arial, sans-serif' >300</text>
<line x1="1044" y1="159.3" x2="1054.5" y2="159.3" stroke="#000" stroke-width="4.6" stroke-linecap="round" />
<line x1="1044" y1="147.8" x2="1049" y2="147.8" stroke="#000" stroke-width="4.6" stroke-linecap="round" />
<line x1="1044" y1="136.4" x2="1049" y2="136.4" stroke="#000" stroke-width="4.6" stroke-linecap="round" />
<line x1="1044" y1="125.2" x2="1049" y2="125.2" stroke="#000" stroke-width="4.6" stroke-linecap="round" />
<line x1="1044" y1="114.1" x2="1049" y2="114.1" stroke="#000" stroke-width="4.6" stroke-linecap="round" />
<line x1="1044" y1="103.1" x2="1049" y2="103.1" stroke="#000" stroke-width="4.6" stroke-linecap="round" />
<line x1="1044" y1="92.2" x2="1049" y2="92.2" stroke="#000" stroke-width="4.6" stroke-linecap="round" />
<line x1="1044" y1="81.4" x2="1049" y2="81.4" stroke="#000" stroke-width="4.6" stroke-linecap="round" />
<line x1="1044" y1="70.8" x2="1049" y2="70.8" stroke="#000" stroke-width="4.6" stroke-linecap="round" />
<line x1="1044" y1="60.2" x2="1054.5" y2="60.2" stroke="#000" stroke-width="4.6" stroke-linecap="round" />
<line x1="1044" y1="49.8" x2="1049" y2="49.8" stroke="#000" stroke-width="4.6" stroke-linecap="round" />
<line x1="1044" y1="39.4" x2="1049" y2="39.4" stroke="#000" stroke-width="4.6" stroke-linecap="round" />
<line x1="1044" y1="29.2" x2="1049" y2="29.2" stroke="#000" stroke-width="4.6" stroke-linecap="round" />
<line x1="1044" y1="19" x2="1049" y2="19" stroke="#000" stroke-width="4.6" stroke-linecap="round" />
<line x1="1044" y1="9" x2="1049" y2="9" stroke="#000" stroke-width="4.6" stroke-linecap="round" />
<line x1="1044" y1="170.9" x2="1049" y2="170.9" stroke="#000" stroke-width="4.6" stroke-linecap="round" />
<line x1="1044" y1="182.7" x2="1049" y2="182.7" stroke="#000" stroke-width="4.6" stroke-linecap="round" />
<line x1="1044" y1="194.5" x2="1049" y2="194.5" stroke="#000" stroke-width="4.6" stroke-linecap="round" />
<line x1="1044" y1="206.6" x2="1049" y2="206.6" stroke="#000" stroke-width="4.6" stroke-linecap="round" />
<line x1="1044" y1="218.7" x2="1049" y2="218.7" stroke="#000" stroke-width="4.6" stroke-linecap="round" />
<line x1="1044" y1="231" x2="1049" y2="231" stroke="#000" stroke-width="4.6" stroke-linecap="round" />
<line x1="1044" y1="243.5" x2="1049" y2="243.5" stroke="#000" stroke-width="4.6" stroke-linecap="round" />
<line x1="1044" y1="401.9" x2="1054.5" y2="401.9" stroke="#000" stroke-width="4.6" stroke-linecap="round" />
<line x1="1044" y1="390.1" x2="1049" y2="390.1" stroke="#000" stroke-width="4.6" stroke-linecap="round" />
<line x1="1044" y1="378.5" x2="1049" y2="378.5" stroke="#000" stroke-width="4.6" stroke-linecap="round" />
<line x1="1044" y1="367.1" x2="1049" y2="367.1" stroke="#000" stroke-width="4.6" stroke-linecap="round" />
<line x1="1044" y1="355.9" x2="1049" y2="355.9" stroke="#000" stroke-width="4.6" stroke-linecap="round" />
<line x1="1044" y1="344.9" x2="1049" y2="344.9" stroke="#000" stroke-width="4.6" stroke-linecap="round" />
<line x1="1044" y1="334" x2="1049" y2="334" stroke="#000" stroke-width="4.6" stroke-linecap="round" />
<line x1="1044" y1="323.4" x2="1049" y2="323.4" stroke="#000" stroke-width="4.6" stroke-linecap="round" />
<line x1="1044" y1="312.9" x2="1049" y2="312.9" stroke="#000" stroke-width="4.6" stroke-linecap="round" />
<line x1="1044" y1="302.6" x2="1054.5" y2="302.6" stroke="#000" stroke-width="4.6" stroke-linecap="round" />
<line x1="1044" y1="292.5" x2="1049" y2="292.5" stroke="#000" stroke-width="4.6" stroke-linecap="round" />
<line x1="1044" y1="282.5" x2="1049" y2="282.5" stroke="#000" stroke-width="4.6" stroke-linecap="round" />
<line x1="1044" y1="272.6" x2="1049" y2="272.6" stroke="#000" stroke-width="4.6" stroke-linecap="round" />
<line x1="1044" y1="413.9" x2="1049" y2="413.9" stroke="#000" stroke-width="4.6" stroke-linecap="round" />
<line x1="1044" y1="426.2" x2="1049" y2="426.2" stroke="#000" stroke-width="4.6" stroke-linecap="round" />
<line x1="1044" y1="438.7" x2="1049" y2="438.7" stroke="#000" stroke-width="4.6" stroke-linecap="round" />
<line x1="1044" y1="451.5" x2="1049" y2="451.5" stroke="#000" stroke-width="4.6" stroke-linecap="round" />
<line x1="1044" y1="464.5" x2="1049" y2="464.5" stroke="#000" stroke-width="4.6" stroke-linecap="round" />
<line x1="1044" y1="477.8" x2="1049" y2="477.8" stroke="#000" stroke-width="4.6" stroke-linecap="round" />
<line x1="1044" y1="491.3" x2="1049" y2="491.3" stroke="#000" stroke-width="4.6" stroke-linecap="round" />
<line x1="1044" y1="505.2" x2="1049" y2="505.2" stroke="#000" stroke-width="4.6" stroke-linecap="round" />
<text x="1033" y="72.2" font-size="39" text-anchor="end" fill="#000" font-family='"Liberation Sans", Arial, sans-serif' >550</text>
<text x="1033" y="171.3" font-size="39" text-anchor="end" fill="#000" font-family='"Liberation Sans", Arial, sans-serif' >500</text>
<text x="1033" y="314.6" font-size="39" text-anchor="end" fill="#000" font-family='"Liberation Sans", Arial, sans-serif' >350</text>
<text x="1033" y="413.9" font-size="39" text-anchor="end" fill="#000" font-family='"Liberation Sans", Arial, sans-serif' >300</text>
<text x="1033" y="531.3" font-size="39" text-anchor="end" fill="#000" font-family='"Liberation Sans", Arial, sans-serif' >250</text>
<text x="1390" y="617.5" font-size="40" text-anchor="middle" fill="#000" font-family='"Liberation Sans", Arial, sans-serif' >T (K)</text>
<text x="0" y="0" font-size="40.5" font-family='"Liberation Sans", Arial, sans-serif' text-anchor="middle" transform="translate(948 291.4) rotate(-90)">Resistivity (<tspan font-family='"Liberation Serif", "Times New Roman", serif' font-size="44">&#956;&#937;</tspan>.cm)</text>
<text x="1089.5" y="60" font-size="40" text-anchor="middle" fill="#000" font-family='"Liberation Sans", Arial, sans-serif' >(c)</text>
<line x1="1136" y1="30.4" x2="1213" y2="30.4" stroke="#000000" stroke-width="5.2" stroke-linecap="round" />
<text x="1222.5" y="42.2" font-size="35" text-anchor="start" fill="#000" font-family='"Liberation Sans", Arial, sans-serif' >x=0.3, B=0T</text>
<line x1="1136" y1="73.3" x2="1213" y2="73.3" stroke="#ff0000" stroke-width="5.2" stroke-linecap="round" />
<text x="1222.5" y="85.1" font-size="35" text-anchor="start" fill="#000" font-family='"Liberation Sans", Arial, sans-serif' >x=0.3, B=9T</text>
<line x1="1136" y1="116.2" x2="1213" y2="116.2" stroke="#0000ff" stroke-width="5.2" stroke-linecap="round" />
<text x="1222.5" y="128" font-size="35" text-anchor="start" fill="#000" font-family='"Liberation Sans", Arial, sans-serif' >x=0.2, B=0T</text>
<line x1="1136" y1="159.1" x2="1213" y2="159.1" stroke="#808000" stroke-width="5.2" stroke-linecap="round" />
<text x="1222.5" y="170.9" font-size="35" text-anchor="start" fill="#000" font-family='"Liberation Sans", Arial, sans-serif' >x=0.2, B=9T</text>
<path d="M1047.8,448.9 C1048.1,449.1 1049,449.9 1049.6,450.3 C1050.2,450.8 1050.9,451.3 1051.4,451.8 C1052,452.2 1052.6,452.6 1052.9,452.8 C1053.2,453.1 1052.9,452.8 1053.3,453.1 C1053.6,453.4 1054.5,454 1055.1,454.4 C1055.7,454.8 1056.4,455.3 1056.9,455.6 C1057.4,455.9 1057.7,456.1 1058,456.3 C1058.3,456.5 1058.3,456.5 1058.7,456.8 C1059.1,457 1059.9,457.5 1060.5,457.9 C1061.1,458.2 1061.9,458.7 1062.3,458.9 C1062.8,459.1 1062.7,459.1 1063,459.3 C1063.3,459.4 1063.7,459.6 1064.2,459.9 C1064.7,460.1 1065.4,460.5 1066,460.8 C1066.6,461.1 1067.4,461.5 1067.8,461.7 C1068.2,461.9 1067.2,461.5 1068.1,461.9 C1069,462.3 1071.5,463.4 1073.2,464.1 C1074.9,464.8 1076.6,465.4 1078.3,466 C1080,466.6 1081.7,467.1 1083.4,467.7 C1085,468.2 1086.7,468.6 1088.4,469.1 C1090.1,469.5 1091.8,469.9 1093.5,470.3 C1095.2,470.7 1096.9,471 1098.6,471.4 C1100.3,471.7 1102,472 1103.7,472.2 C1105.4,472.5 1107.1,472.7 1108.8,472.9 C1110.4,473.2 1112.1,473.4 1113.8,473.5 C1115.5,473.7 1117.2,473.8 1118.9,474 C1120.6,474.1 1122.3,474.2 1124,474.3 C1125.7,474.4 1127.4,474.5 1129.1,474.6 C1130.8,474.7 1132.5,474.7 1134.1,474.8 C1135.8,474.8 1137.5,474.8 1139.2,474.9 C1140.9,474.9 1142.6,474.9 1144.3,474.9 C1146,474.9 1147.7,474.9 1149.4,474.9 C1151.1,474.9 1152.8,474.9 1154.5,474.8 C1156.2,474.8 1157.8,474.7 1159.5,474.7 C1161.2,474.6 1162.9,474.6 1164.6,474.5 C1166.3,474.4 1168,474.3 1169.7,474.2 C1171.4,474.1 1173.1,474 1174.8,473.9 C1176.5,473.8 1178.2,473.7 1179.9,473.5 C1181.6,473.4 1183.2,473.3 1184.9,473.1 C1186.6,473 1188.3,472.8 1190,472.7 C1191.7,472.5 1193.4,472.3 1195.1,472.2 C1196.8,472 1198.5,471.8 1200.2,471.6 C1201.9,471.4 1203.6,471.2 1205.3,471 C1206.9,470.8 1208.6,470.6 1210.3,470.4 C1212,470.2 1213.7,469.9 1215.4,469.7 C1217.1,469.5 1218.8,469.2 1220.5,469 C1222.2,468.8 1223.9,468.5 1225.6,468.3 C1227.3,468 1229,467.7 1230.7,467.5 C1232.3,467.2 1234,466.9 1235.7,466.7 C1237.4,466.4 1239.1,466.1 1240.8,465.8 C1242.5,465.6 1244.2,465.3 1245.9,465 C1247.6,464.7 1249.3,464.4 1251,464.1 C1252.7,463.8 1254.4,463.5 1256,463.2 C1257.7,462.9 1259.4,462.6 1261.1,462.3 C1262.8,462 1264.5,461.7 1266.2,461.3 C1267.9,461 1269.6,460.7 1271.3,460.4 C1273,460.1 1274.7,459.7 1276.4,459.4 C1278.1,459.1 1279.8,458.7 1281.4,458.4 C1283.1,458.1 1284.8,457.7 1286.5,457.4 C1288.2,457 1289.9,456.7 1291.6,456.3 C1293.3,456 1295,455.6 1296.7,455.3 C1298.4,454.9 1300.1,454.5 1301.8,454.1 C1303.5,453.8 1305.1,453.4 1306.8,453 C1308.5,452.6 1310.2,452.2 1311.9,451.8 C1313.6,451.4 1315.3,451 1317,450.6 C1318.7,450.2 1320.4,449.8 1322.1,449.3 C1323.8,448.9 1325.5,448.5 1327.2,448 C1328.8,447.6 1330.5,447.2 1332.2,446.7 C1333.9,446.2 1335.6,445.8 1337.3,445.3 C1339,444.8 1340.7,444.4 1342.4,443.9 C1344.1,443.4 1345.8,442.9 1347.5,442.4 C1349.2,441.9 1350.9,441.4 1352.6,440.8 C1354.2,440.3 1355.9,439.8 1357.6,439.2 C1359.3,438.7 1361,438.2 1362.7,437.6 C1364.4,437.1 1366.1,436.5 1367.8,435.9 C1369.5,435.4 1371.2,434.8 1372.9,434.2 C1374.6,433.7 1376.3,433.1 1377.9,432.5 C1379.6,431.9 1381.3,431.3 1383,430.8 C1384.7,430.2 1386.4,429.6 1388.1,429 C1389.8,428.4 1391.5,427.8 1393.2,427.2 C1394.9,426.6 1396.6,426 1398.3,425.4 C1400,424.8 1401.7,424.2 1403.3,423.6 C1405,423 1406.7,422.4 1408.4,421.8 C1410.1,421.2 1411.8,420.6 1413.5,420 C1415.2,419.3 1416.9,418.7 1418.6,418.1 C1420.3,417.5 1422,416.9 1423.7,416.4 C1425.4,415.8 1427,415.2 1428.7,414.6 C1430.4,414 1432.1,413.4 1433.8,412.8 C1435.5,412.2 1437.2,411.7 1438.9,411.1 C1440.6,410.5 1442.3,409.9 1444,409.4 C1445.7,408.8 1447.4,408.2 1449.1,407.6 C1450.7,407.1 1452.4,406.5 1454.1,405.9 C1455.8,405.4 1457.5,404.8 1459.2,404.3 C1460.9,403.7 1462.6,403.1 1464.3,402.6 C1466,402 1467.7,401.5 1469.4,400.9 C1471.1,400.4 1472.8,399.8 1474.5,399.2 C1476.1,398.7 1477.8,398.1 1479.5,397.6 C1481.2,397 1482.9,396.5 1484.6,395.9 C1486.3,395.4 1488,394.8 1489.7,394.2 C1491.4,393.7 1493.1,393.1 1494.8,392.6 C1496.5,392 1498.2,391.4 1499.8,390.9 C1501.5,390.3 1503.2,389.8 1504.9,389.2 C1506.6,388.6 1508.3,388.1 1510,387.5 C1511.7,386.9 1513.4,386.3 1515.1,385.8 C1516.8,385.2 1518.5,384.6 1520.2,384 C1521.9,383.5 1523.6,382.9 1525.2,382.3 C1526.9,381.7 1528.6,381.1 1530.3,380.6 C1532,380 1533.7,379.4 1535.4,378.8 C1537.1,378.2 1538.8,377.6 1540.5,377 C1542.2,376.4 1543.9,375.8 1545.6,375.2 C1547.3,374.6 1548.9,374.1 1550.6,373.5 C1552.3,372.9 1554,372.3 1555.7,371.6 C1557.4,371 1559.1,370.4 1560.8,369.8 C1562.5,369.2 1564.2,368.6 1565.9,368 C1567.6,367.4 1569.3,366.8 1571,366.2 C1572.7,365.6 1574.3,365 1576,364.3 C1577.7,363.7 1579.4,363.1 1581.1,362.5 C1582.8,361.9 1584.5,361.3 1586.2,360.6 C1587.9,360 1589.6,359.4 1591.3,358.8 C1593,358.2 1594.7,357.5 1596.4,356.9 C1598,356.3 1599.7,355.7 1601.4,355.1 C1603.1,354.4 1604.8,353.8 1606.5,353.2 C1608.2,352.6 1609.9,352 1611.6,351.3 C1613.3,350.7 1615,350.1 1616.7,349.5 C1618.4,348.9 1620.1,348.3 1621.7,347.7 C1623.4,347.1 1625.1,346.5 1626.8,345.9 C1628.5,345.3 1630.2,344.7 1631.9,344.1 C1633.6,343.6 1635.3,343 1637,342.4 C1638.7,341.8 1640.4,341.3 1642.1,340.7 C1643.8,340.2 1645.5,339.6 1647.1,339.1 C1648.8,338.5 1650.5,338 1652.2,337.5 C1653.9,336.9 1655.6,336.4 1657.3,335.9 C1659,335.4 1660.7,334.9 1662.4,334.4 C1664.1,333.9 1665.8,333.4 1667.5,333 C1669.2,332.5 1670.8,332 1672.5,331.6 C1674.2,331.2 1675.9,330.7 1677.6,330.3 C1679.3,329.9 1680.2,330.3 1682.7,329.1 C1685.2,327.9 1689.9,324.5 1692.5,323.2 C1695.1,321.9 1696.5,322 1698.5,321.5 C1700.5,320.9 1702.5,320.3 1704.5,319.7 C1706.5,319.2 1708.5,318.6 1710.5,318 C1712.5,317.5 1714.5,316.9 1716.5,316.3 C1718.5,315.8 1720.5,315.2 1722.5,314.6 C1724.5,314.1 1726.5,313.5 1728.5,313 C1730.5,312.4 1733.5,311.6 1734.5,311.3" fill="none" stroke="#808000" stroke-width="4.8" stroke-linejoin="round" stroke-linecap="round" />
<path d="M1047.8,429.2 C1048.1,429.6 1049,430.7 1049.6,431.5 C1050.2,432.2 1050.9,433 1051.4,433.6 C1052,434.2 1052.5,434.9 1052.8,435.2 C1053.2,435.6 1052.9,435.3 1053.3,435.7 C1053.6,436.1 1054.5,437 1055.1,437.7 C1055.7,438.3 1056.4,439.1 1056.9,439.6 C1057.4,440 1057.6,440.3 1057.9,440.6 C1058.2,440.9 1058.3,441 1058.7,441.4 C1059.1,441.8 1059.9,442.5 1060.5,443.1 C1061.1,443.7 1061.9,444.4 1062.3,444.8 C1062.7,445.1 1062.6,445 1062.9,445.3 C1063.3,445.6 1063.7,445.9 1064.2,446.3 C1064.7,446.8 1065.4,447.4 1066,447.8 C1066.6,448.3 1067.5,449 1067.8,449.3 C1068.1,449.6 1067.1,448.8 1068,449.4 C1068.9,450.1 1071.4,451.9 1073,453.1 C1074.7,454.2 1076.4,455.2 1078.1,456.2 C1079.8,457.2 1081.5,458.1 1083.1,458.9 C1084.8,459.7 1086.5,460.5 1088.2,461.2 C1089.9,461.9 1091.6,462.6 1093.2,463.2 C1094.9,463.8 1096.6,464.3 1098.3,464.8 C1100,465.3 1101.7,465.7 1103.3,466.1 C1105,466.5 1106.7,466.9 1108.4,467.2 C1110.1,467.5 1111.8,467.8 1113.4,468 C1115.1,468.3 1116.8,468.5 1118.5,468.7 C1120.2,468.9 1121.9,469 1123.5,469.2 C1125.2,469.3 1126.9,469.4 1128.6,469.5 C1130.3,469.6 1132,469.7 1133.6,469.8 C1135.3,469.9 1137,469.9 1138.7,470 C1140.4,470 1142.1,470 1143.7,470 C1145.4,470.1 1147.1,470.1 1148.8,470.1 C1150.5,470 1152.2,470 1153.8,470 C1155.5,470 1157.2,469.9 1158.9,469.8 C1160.6,469.8 1162.2,469.7 1163.9,469.6 C1165.6,469.5 1167.3,469.4 1169,469.3 C1170.7,469.2 1172.3,469.1 1174,468.9 C1175.7,468.8 1177.4,468.6 1179.1,468.4 C1180.8,468.3 1182.4,468.1 1184.1,467.9 C1185.8,467.7 1187.5,467.5 1189.2,467.3 C1190.9,467.1 1192.5,466.8 1194.2,466.6 C1195.9,466.4 1197.6,466.1 1199.3,465.8 C1201,465.6 1202.6,465.3 1204.3,465 C1206,464.7 1207.7,464.4 1209.4,464.1 C1211.1,463.8 1212.7,463.5 1214.4,463.1 C1216.1,462.8 1217.8,462.4 1219.5,462.1 C1221.2,461.7 1222.8,461.3 1224.5,461 C1226.2,460.6 1227.9,460.2 1229.6,459.8 C1231.3,459.4 1232.9,458.9 1234.6,458.5 C1236.3,458.1 1238,457.7 1239.7,457.2 C1241.4,456.8 1243,456.3 1244.7,455.8 C1246.4,455.3 1248.1,454.9 1249.8,454.4 C1251.5,453.9 1253.1,453.4 1254.8,452.9 C1256.5,452.3 1258.2,451.8 1259.9,451.3 C1261.6,450.8 1263.2,450.2 1264.9,449.7 C1266.6,449.1 1268.3,448.5 1270,448 C1271.7,447.4 1273.3,446.8 1275,446.2 C1276.7,445.6 1278.4,445 1280.1,444.4 C1281.7,443.8 1283.4,443.2 1285.1,442.6 C1286.8,442 1288.5,441.3 1290.2,440.7 C1291.8,440.1 1293.5,439.4 1295.2,438.8 C1296.9,438.2 1298.6,437.5 1300.3,436.9 C1301.9,436.2 1303.6,435.6 1305.3,434.9 C1307,434.3 1308.7,433.6 1310.4,433 C1312,432.3 1313.7,431.7 1315.4,431 C1317.1,430.4 1318.8,429.7 1320.5,429.1 C1322.1,428.4 1323.8,427.8 1325.5,427.1 C1327.2,426.5 1328.9,425.8 1330.6,425.2 C1332.2,424.6 1333.9,423.9 1335.6,423.3 C1337.3,422.6 1339,422 1340.7,421.4 C1342.3,420.8 1344,420.2 1345.7,419.5 C1347.4,418.9 1349.1,418.3 1350.8,417.7 C1352.4,417.1 1354.1,416.5 1355.8,415.9 C1357.5,415.3 1359.2,414.7 1360.9,414.2 C1362.5,413.6 1364.2,413 1365.9,412.4 C1367.6,411.8 1369.3,411.2 1371,410.6 C1372.6,410 1374.3,409.4 1376,408.8 C1377.7,408.3 1379.4,407.7 1381.1,407.1 C1382.7,406.4 1384.4,405.8 1386.1,405.2 C1387.8,404.6 1389.5,404 1391.2,403.4 C1392.8,402.7 1394.5,402.1 1396.2,401.5 C1397.9,400.8 1399.6,400.2 1401.2,399.5 C1402.9,398.9 1404.6,398.2 1406.3,397.5 C1408,396.9 1409.7,396.2 1411.3,395.5 C1413,394.9 1414.7,394.2 1416.4,393.5 C1418.1,392.8 1419.8,392.1 1421.4,391.4 C1423.1,390.7 1424.8,390 1426.5,389.3 C1428.2,388.6 1429.9,387.9 1431.5,387.2 C1433.2,386.5 1434.9,385.8 1436.6,385.1 C1438.3,384.4 1440,383.7 1441.6,383 C1443.3,382.2 1445,381.5 1446.7,380.8 C1448.4,380.1 1450.1,379.4 1451.7,378.7 C1453.4,378 1455.1,377.2 1456.8,376.5 C1458.5,375.8 1460.2,375.1 1461.8,374.4 C1463.5,373.7 1465.2,373 1466.9,372.2 C1468.6,371.5 1470.3,370.8 1471.9,370.1 C1473.6,369.4 1475.3,368.7 1477,368 C1478.7,367.3 1480.4,366.6 1482,365.9 C1483.7,365.2 1485.4,364.5 1487.1,363.8 C1488.8,363.1 1490.5,362.4 1492.1,361.7 C1493.8,361 1495.5,360.3 1497.2,359.6 C1498.9,359 1500.6,358.3 1502.2,357.6 C1503.9,356.9 1505.6,356.2 1507.3,355.5 C1509,354.8 1510.6,354.2 1512.3,353.5 C1514,352.8 1515.7,352.1 1517.4,351.5 C1519.1,350.8 1520.7,350.1 1522.4,349.4 C1524.1,348.8 1525.8,348.1 1527.5,347.4 C1529.2,346.8 1530.8,346.1 1532.5,345.4 C1534.2,344.8 1535.9,344.1 1537.6,343.4 C1539.3,342.8 1540.9,342.1 1542.6,341.5 C1544.3,340.8 1546,340.1 1547.7,339.5 C1549.4,338.8 1551,338.2 1552.7,337.5 C1554.4,336.9 1556.1,336.2 1557.8,335.6 C1559.5,334.9 1561.1,334.3 1562.8,333.6 C1564.5,333 1566.2,332.3 1567.9,331.7 C1569.6,331 1571.2,330.4 1572.9,329.7 C1574.6,329.1 1576.3,328.5 1578,327.8 C1579.7,327.2 1581.3,326.5 1583,325.9 C1584.7,325.3 1586.4,324.6 1588.1,324 C1589.8,323.4 1591.4,322.7 1593.1,322.1 C1594.8,321.5 1596.5,320.8 1598.2,320.2 C1599.9,319.6 1601.5,319 1603.2,318.3 C1604.9,317.7 1606.6,317.1 1608.3,316.4 C1610,315.8 1611.6,315.2 1613.3,314.6 C1615,314 1616.7,313.3 1618.4,312.7 C1620,312.1 1621.7,311.5 1623.4,310.9 C1625.1,310.2 1626.8,309.6 1628.5,309 C1630.1,308.4 1631.8,307.8 1633.5,307.2 C1635.2,306.5 1636.9,305.9 1638.6,305.3 C1640.2,304.7 1641.9,304.1 1643.6,303.5 C1645.3,302.9 1647,302.3 1648.7,301.6 C1650.3,301 1652,300.4 1653.7,299.8 C1655.4,299.2 1657.1,298.6 1658.8,298 C1660.4,297.4 1662.1,296.8 1663.8,296.2 C1665.5,295.6 1667.2,295 1668.9,294.4 C1670.5,293.8 1672.2,293.2 1673.9,292.6 C1675.6,292 1677.3,291.4 1679,290.8 C1680.6,290.2 1682.3,289.6 1684,289 C1685.7,288.4 1687.4,287.8 1689.1,287.2 C1690.7,286.6 1692.4,286 1694.1,285.4 C1695.8,284.8 1697.5,284.2 1699.2,283.6 C1700.8,283 1702.5,282.4 1704.2,281.8 C1705.9,281.2 1707.6,280.6 1709.3,280 C1710.9,279.4 1712.6,278.8 1714.3,278.3 C1716,277.7 1717.7,277.1 1719.4,276.5 C1721,275.9 1722.7,275.3 1724.4,274.7 C1726.1,274.1 1727.8,273.5 1729.5,272.9 C1731.1,272.3 1733.7,271.5 1734.5,271.2" fill="none" stroke="#0000ff" stroke-width="4.8" stroke-linejoin="round" stroke-linecap="round" />
<path d="M1050.9,201 C1051.2,201.3 1052.1,202.3 1052.7,203 C1053.3,203.7 1054,204.4 1054.5,204.9 C1055.1,205.5 1055.7,206.1 1056,206.5 C1056.3,206.8 1056,206.5 1056.4,206.8 C1056.7,207.2 1057.6,208 1058.2,208.6 C1058.8,209.2 1059.5,209.9 1060,210.4 C1060.5,210.9 1060.8,211.1 1061.1,211.4 C1061.4,211.7 1061.4,211.7 1061.8,212.1 C1062.2,212.5 1063,213.2 1063.6,213.7 C1064.2,214.3 1065,214.9 1065.4,215.3 C1065.9,215.7 1065.9,215.7 1066.2,215.9 C1066.5,216.2 1066.8,216.4 1067.3,216.8 C1067.7,217.2 1068.5,217.8 1069.1,218.3 C1069.7,218.8 1070.5,219.4 1070.9,219.7 C1071.3,220 1070.4,219.3 1071.3,220 C1072.2,220.6 1074.7,222.4 1076.3,223.6 C1078,224.7 1079.7,225.8 1081.4,226.9 C1083.1,227.9 1084.8,228.9 1086.5,229.8 C1088.2,230.7 1089.9,231.6 1091.6,232.4 C1093.3,233.2 1095,234 1096.7,234.8 C1098.4,235.5 1100.1,236.2 1101.8,236.9 C1103.5,237.6 1105.2,238.2 1106.9,238.8 C1108.6,239.4 1110.3,240 1112,240.6 C1113.7,241.1 1115.4,241.6 1117.1,242.1 C1118.8,242.6 1120.5,243.1 1122.2,243.5 C1123.9,243.9 1125.6,244.3 1127.2,244.7 C1128.9,245.1 1130.6,245.4 1132.3,245.7 C1134,246 1135.7,246.3 1137.4,246.6 C1139.1,246.9 1140.8,247.1 1142.5,247.3 C1144.2,247.6 1145.9,247.8 1147.6,247.9 C1149.3,248.1 1151,248.3 1152.7,248.4 C1154.4,248.5 1156.1,248.6 1157.8,248.7 C1159.5,248.8 1161.2,248.9 1162.9,248.9 C1164.6,249 1166.3,249 1168,249 C1169.7,249 1171.4,249 1173.1,249 C1174.8,249 1176.4,248.9 1178.1,248.9 C1179.8,248.8 1181.5,248.8 1183.2,248.7 C1184.9,248.6 1186.6,248.5 1188.3,248.4 C1190,248.3 1191.7,248.2 1193.4,248 C1195.1,247.9 1196.8,247.8 1198.5,247.6 C1200.2,247.4 1201.9,247.3 1203.6,247.1 C1205.3,246.9 1207,246.7 1208.7,246.6 C1210.4,246.4 1212.1,246.2 1213.8,245.9 C1215.5,245.7 1217.2,245.5 1218.9,245.3 C1220.6,245 1222.3,244.8 1224,244.6 C1225.6,244.3 1227.3,244.1 1229,243.8 C1230.7,243.5 1232.4,243.3 1234.1,243 C1235.8,242.7 1237.5,242.4 1239.2,242.1 C1240.9,241.8 1242.6,241.5 1244.3,241.2 C1246,240.9 1247.7,240.6 1249.4,240.3 C1251.1,239.9 1252.8,239.6 1254.5,239.3 C1256.2,238.9 1257.9,238.6 1259.6,238.2 C1261.3,237.9 1263,237.5 1264.7,237.2 C1266.4,236.8 1268.1,236.4 1269.8,236.1 C1271.5,235.7 1273.2,235.3 1274.8,234.9 C1276.5,234.5 1278.2,234.1 1279.9,233.7 C1281.6,233.3 1283.3,232.9 1285,232.5 C1286.7,232.1 1288.4,231.7 1290.1,231.3 C1291.8,230.9 1293.5,230.4 1295.2,230 C1296.9,229.6 1298.6,229.1 1300.3,228.7 C1302,228.3 1303.7,227.8 1305.4,227.4 C1307.1,226.9 1308.8,226.5 1310.5,226 C1312.2,225.6 1313.9,225.1 1315.6,224.7 C1317.3,224.2 1319,223.8 1320.7,223.3 C1322.4,222.8 1324.1,222.4 1325.7,221.9 C1327.4,221.4 1329.1,220.9 1330.8,220.5 C1332.5,220 1334.2,219.5 1335.9,219 C1337.6,218.5 1339.3,218 1341,217.6 C1342.7,217.1 1344.4,216.6 1346.1,216.1 C1347.8,215.6 1349.5,215.1 1351.2,214.6 C1352.9,214.1 1354.6,213.6 1356.3,213.1 C1358,212.6 1359.7,212.1 1361.4,211.6 C1363.1,211.1 1364.8,210.6 1366.5,210.1 C1368.2,209.6 1369.9,209.1 1371.6,208.5 C1373.3,208 1374.9,207.5 1376.6,207 C1378.3,206.4 1380,205.9 1381.7,205.4 C1383.4,204.8 1385.1,204.3 1386.8,203.7 C1388.5,203.2 1390.2,202.6 1391.9,202.1 C1393.6,201.5 1395.3,200.9 1397,200.4 C1398.7,199.8 1400.4,199.2 1402.1,198.6 C1403.8,198 1405.5,197.4 1407.2,196.8 C1408.9,196.2 1410.6,195.6 1412.3,195 C1414,194.4 1415.7,193.8 1417.4,193.2 C1419.1,192.6 1420.8,192 1422.5,191.3 C1424.2,190.7 1425.8,190.1 1427.5,189.5 C1429.2,188.8 1430.9,188.2 1432.6,187.6 C1434.3,186.9 1436,186.3 1437.7,185.7 C1439.4,185 1441.1,184.4 1442.8,183.8 C1444.5,183.1 1446.2,182.5 1447.9,181.9 C1449.6,181.2 1451.3,180.6 1453,180 C1454.7,179.3 1456.4,178.7 1458.1,178.1 C1459.8,177.5 1461.5,176.8 1463.2,176.2 C1464.9,175.6 1466.6,175 1468.3,174.4 C1470,173.8 1471.7,173.2 1473.4,172.6 C1475,172 1476.7,171.4 1478.4,170.8 C1480.1,170.2 1481.8,169.6 1483.5,169 C1485.2,168.5 1486.9,167.9 1488.6,167.3 C1490.3,166.8 1492,166.2 1493.7,165.7 C1495.4,165.1 1495,166.3 1498.8,164.1 C1502.6,161.9 1512.8,154.6 1516.6,152.5 C1520.4,150.3 1520.1,151.5 1521.8,150.9 C1523.5,150.4 1525.2,149.8 1527,149.3 C1528.7,148.7 1530.4,148.1 1532.2,147.5 C1533.9,146.9 1535.6,146.3 1537.4,145.7 C1539.1,145.1 1540.8,144.5 1542.5,143.8 C1544.3,143.2 1546,142.5 1547.7,141.9 C1549.5,141.2 1551.2,140.6 1552.9,139.9 C1554.6,139.3 1556.4,138.6 1558.1,138 C1559.8,137.3 1561.6,136.6 1563.3,136 C1565,135.3 1566.8,134.6 1568.5,134 C1570.2,133.3 1571.9,132.7 1573.7,132 C1575.4,131.4 1577.1,130.7 1578.9,130.1 C1580.6,129.4 1582.3,128.8 1584,128.2 C1585.8,127.6 1587.5,126.9 1589.2,126.3 C1591,125.7 1592.7,125.1 1594.4,124.5 C1596.2,123.9 1597.9,123.3 1599.6,122.7 C1601.3,122.1 1603.1,121.5 1604.8,120.9 C1606.5,120.3 1608.3,119.7 1610,119.1 C1611.7,118.5 1613.4,117.9 1615.2,117.3 C1616.9,116.7 1618.6,116.1 1620.4,115.6 C1622.1,115 1623.8,114.4 1625.5,113.8 C1627.3,113.2 1629,112.6 1630.7,112 C1632.5,111.4 1634.2,110.8 1635.9,110.2 C1637.7,109.6 1639.4,109 1641.1,108.5 C1642.8,107.9 1644.6,107.3 1646.3,106.7 C1648,106.1 1649.8,105.5 1651.5,104.9 C1653.2,104.3 1654.9,103.7 1656.7,103.1 C1658.4,102.5 1660.1,101.9 1661.9,101.3 C1663.6,100.7 1665.3,100.2 1667.1,99.6 C1668.8,99 1670.5,98.4 1672.2,97.8 C1674,97.2 1675.7,96.6 1677.4,96 C1679.2,95.4 1680.9,94.9 1682.6,94.3 C1684.3,93.7 1686.1,93.1 1687.8,92.5 C1689.5,92 1691.3,91.4 1693,90.8 C1694.7,90.2 1696.5,89.6 1698.2,89.1 C1699.9,88.5 1701.6,87.9 1703.4,87.4 C1705.1,86.8 1706.8,86.2 1708.6,85.7 C1710.3,85.1 1712,84.5 1713.7,84 C1715.5,83.4 1717.2,82.9 1718.9,82.3 C1720.7,81.8 1722.4,81.2 1724.1,80.7 C1725.9,80.1 1727.6,79.6 1729.3,79 C1731,78.5 1733.6,77.7 1734.5,77.4" fill="none" stroke="#ff0000" stroke-width="4.8" stroke-linejoin="round" stroke-linecap="round" />
<path d="M1048.1,174.8 C1048.4,175.1 1049.3,176.3 1049.9,177 C1050.5,177.8 1051.2,178.6 1051.7,179.3 C1052.3,179.9 1052.8,180.6 1053.1,180.9 C1053.5,181.3 1053.2,181 1053.6,181.4 C1053.9,181.9 1054.8,182.9 1055.4,183.5 C1056,184.2 1056.7,185.1 1057.2,185.6 C1057.7,186.1 1057.9,186.4 1058.2,186.7 C1058.5,187.1 1058.6,187.2 1059,187.6 C1059.4,188.1 1060.2,189 1060.8,189.6 C1061.4,190.3 1062.2,191.1 1062.6,191.5 C1063,191.9 1062.9,191.8 1063.2,192.1 C1063.5,192.5 1064,192.9 1064.5,193.4 C1065,193.9 1065.7,194.6 1066.3,195.2 C1066.9,195.8 1067.8,196.7 1068.1,197 C1068.4,197.3 1067.4,196.4 1068.3,197.2 C1069.2,198 1071.7,200.4 1073.3,201.9 C1075,203.4 1076.7,204.8 1078.4,206.2 C1080.1,207.6 1081.7,208.9 1083.4,210.2 C1085.1,211.5 1086.8,212.8 1088.5,214 C1090.2,215.2 1091.8,216.3 1093.5,217.4 C1095.2,218.5 1096.9,219.6 1098.6,220.6 C1100.3,221.6 1101.9,222.6 1103.6,223.5 C1105.3,224.4 1107,225.3 1108.7,226.2 C1110.3,227.1 1112,227.9 1113.7,228.7 C1115.4,229.5 1117.1,230.2 1118.8,230.9 C1120.4,231.6 1122.1,232.3 1123.8,233 C1125.5,233.6 1127.2,234.2 1128.9,234.8 C1130.5,235.4 1132.2,236 1133.9,236.5 C1135.6,237 1137.3,237.5 1138.9,238 C1140.6,238.4 1142.3,238.9 1144,239.3 C1145.7,239.7 1147.4,240 1149,240.4 C1150.7,240.7 1152.4,241 1154.1,241.3 C1155.8,241.6 1157.5,241.9 1159.1,242.1 C1160.8,242.4 1162.5,242.6 1164.2,242.8 C1165.9,242.9 1167.5,243.1 1169.2,243.2 C1170.9,243.4 1172.6,243.5 1174.3,243.6 C1176,243.7 1177.6,243.7 1179.3,243.8 C1181,243.8 1182.7,243.8 1184.4,243.8 C1186.1,243.8 1187.7,243.8 1189.4,243.8 C1191.1,243.8 1192.8,243.7 1194.5,243.6 C1196.1,243.5 1197.8,243.4 1199.5,243.3 C1201.2,243.2 1202.9,243.1 1204.6,242.9 C1206.2,242.8 1207.9,242.6 1209.6,242.4 C1211.3,242.3 1213,242.1 1214.7,241.9 C1216.3,241.6 1218,241.4 1219.7,241.2 C1221.4,240.9 1223.1,240.7 1224.7,240.4 C1226.4,240.2 1228.1,239.9 1229.8,239.6 C1231.5,239.3 1233.2,239 1234.8,238.7 C1236.5,238.4 1238.2,238 1239.9,237.7 C1241.6,237.4 1243.3,237 1244.9,236.7 C1246.6,236.3 1248.3,236 1250,235.6 C1251.7,235.2 1253.3,234.9 1255,234.5 C1256.7,234.1 1258.4,233.7 1260.1,233.3 C1261.8,232.9 1263.4,232.5 1265.1,232 C1266.8,231.6 1268.5,231.2 1270.2,230.7 C1271.9,230.3 1273.5,229.9 1275.2,229.4 C1276.9,228.9 1278.6,228.5 1280.3,228 C1281.9,227.5 1283.6,227 1285.3,226.5 C1287,226 1288.7,225.5 1290.4,225 C1292,224.5 1293.7,224 1295.4,223.5 C1297.1,222.9 1298.8,222.4 1300.5,221.8 C1302.1,221.3 1303.8,220.7 1305.5,220.1 C1307.2,219.6 1308.9,219 1310.5,218.4 C1312.2,217.8 1313.9,217.2 1315.6,216.6 C1317.3,216 1319,215.4 1320.6,214.8 C1322.3,214.1 1324,213.5 1325.7,212.9 C1327.4,212.2 1329.1,211.6 1330.7,210.9 C1332.4,210.2 1334.1,209.6 1335.8,208.9 C1337.5,208.2 1339.1,207.5 1340.8,206.8 C1342.5,206.1 1344.2,205.4 1345.9,204.7 C1347.6,204 1349.2,203.3 1350.9,202.6 C1352.6,201.8 1354.3,201.1 1356,200.3 C1357.7,199.6 1359.3,198.9 1361,198.1 C1362.7,197.3 1364.4,196.6 1366.1,195.8 C1367.7,195 1369.4,194.3 1371.1,193.5 C1372.8,192.7 1374.5,191.9 1376.2,191.1 C1377.8,190.3 1379.5,189.5 1381.2,188.7 C1382.9,187.9 1384.6,187.1 1386.3,186.3 C1387.9,185.5 1389.6,184.7 1391.3,183.9 C1393,183.1 1394.7,182.2 1396.3,181.4 C1398,180.6 1399.7,179.7 1401.4,178.9 C1403.1,178.1 1404.8,177.2 1406.4,176.4 C1408.1,175.6 1409.8,174.7 1411.5,173.9 C1413.2,173 1414.9,172.2 1416.5,171.3 C1418.2,170.5 1419.9,169.6 1421.6,168.8 C1423.3,167.9 1424.9,167.1 1426.6,166.2 C1428.3,165.3 1430,164.5 1431.7,163.6 C1433.4,162.8 1435,161.9 1436.7,161 C1438.4,160.2 1440.1,159.3 1441.8,158.5 C1443.5,157.6 1445.1,156.7 1446.8,155.9 C1448.5,155 1450.2,154.1 1451.9,153.3 C1453.5,152.4 1455.2,151.5 1456.9,150.7 C1458.6,149.8 1460.3,149 1462,148.1 C1463.6,147.2 1465.3,146.4 1467,145.5 C1468.7,144.7 1470.4,143.8 1472.1,142.9 C1473.7,142.1 1475.4,141.2 1477.1,140.4 C1478.8,139.5 1480.5,138.7 1482.1,137.8 C1483.8,137 1485.5,136.1 1487.2,135.3 C1488.9,134.4 1490.6,133.6 1492.2,132.7 C1493.9,131.9 1495.6,131.1 1497.3,130.2 C1499,129.4 1500.7,128.6 1502.3,127.7 C1504,126.9 1505.7,126.1 1507.4,125.2 C1509.1,124.4 1510.7,123.6 1512.4,122.8 C1514.1,122 1515.8,121.1 1517.5,120.3 C1519.2,119.5 1520.8,118.7 1522.5,117.9 C1524.2,117.1 1525.9,116.3 1527.6,115.5 C1529.3,114.7 1530.9,113.9 1532.6,113.1 C1534.3,112.3 1536,111.5 1537.7,110.7 C1539.3,109.9 1541,109.1 1542.7,108.3 C1544.4,107.5 1546.1,106.7 1547.8,105.9 C1549.4,105.1 1551.1,104.3 1552.8,103.5 C1554.5,102.7 1556.2,101.9 1557.9,101.2 C1559.5,100.4 1561.2,99.6 1562.9,98.8 C1564.6,98 1566.3,97.2 1567.9,96.4 C1569.6,95.6 1571.3,94.8 1573,94 C1574.7,93.2 1576.4,92.4 1578,91.6 C1579.7,90.7 1581.4,89.9 1583.1,89.1 C1584.8,88.3 1586.5,87.5 1588.1,86.7 C1589.8,85.9 1591.5,85.1 1593.2,84.2 C1594.9,83.4 1596.5,82.6 1598.2,81.8 C1599.9,80.9 1601.6,80.1 1603.3,79.3 C1605,78.4 1606.6,77.6 1608.3,76.8 C1610,75.9 1611.7,75.1 1613.4,74.3 C1615.1,73.4 1616.7,72.6 1618.4,71.8 C1620.1,70.9 1621.8,70.1 1623.5,69.3 C1625.1,68.4 1626.8,67.6 1628.5,66.7 C1630.2,65.9 1631.9,65.1 1633.6,64.2 C1635.2,63.4 1636.9,62.6 1638.6,61.7 C1640.3,60.9 1642,60.1 1643.7,59.2 C1645.3,58.4 1647,57.6 1648.7,56.8 C1650.4,55.9 1652.1,55.1 1653.7,54.3 C1655.4,53.5 1657.1,52.6 1658.8,51.8 C1660.5,51 1662.2,50.2 1663.8,49.4 C1665.5,48.6 1667.2,47.8 1668.9,47 C1670.6,46.2 1672.3,45.4 1673.9,44.6 C1675.6,43.8 1677.3,43 1679,42.2 C1680.7,41.4 1682.3,40.6 1684,39.9 C1685.7,39.1 1687.4,38.3 1689.1,37.6 C1690.8,36.8 1692.4,36 1694.1,35.3 C1695.8,34.5 1697.5,33.8 1699.2,33 C1700.9,32.3 1702.5,31.6 1704.2,30.8 C1705.9,30.1 1707.6,29.4 1709.3,28.7 C1710.9,28 1712.6,27.2 1714.3,26.5 C1716,25.8 1717.7,25.2 1719.4,24.5 C1721,23.8 1722.7,23.1 1724.4,22.4 C1726.1,21.8 1727.8,21.1 1729.5,20.5 C1731.1,19.8 1733.7,18.9 1734.5,18.5" fill="none" stroke="#000000" stroke-width="4.8" stroke-linejoin="round" stroke-linecap="round" />
<line x1="214" y1="1135.7" x2="293.9" y2="1024" stroke="#000" stroke-width="5.0" stroke-linecap="round" />
<line x1="306.5" y1="1003" x2="389.6" y2="834.9" stroke="#000" stroke-width="5.0" stroke-linecap="round" />
<line x1="405.8" y1="817.7" x2="478.5" y2="775.7" stroke="#000" stroke-width="5.0" stroke-linecap="round" />
<line x1="493.2" y1="781.2" x2="579.3" y2="1029.5" stroke="#000" stroke-width="5.0" stroke-linecap="round" />
<line x1="594" y1="1047.3" x2="666.7" y2="1089.3" stroke="#000" stroke-width="5.0" stroke-linecap="round" />
<line x1="684" y1="1085.1" x2="764.9" y2="956.5" stroke="#000" stroke-width="5.0" stroke-linecap="round" />
<circle cx="206.9" cy="1145.7" r="8" fill="#000"/>
<circle cx="301" cy="1014" r="8" fill="#000"/>
<circle cx="395.1" cy="823.9" r="8" fill="#000"/>
<circle cx="489.2" cy="769.6" r="8" fill="#000"/>
<circle cx="583.3" cy="1041.2" r="8" fill="#000"/>
<circle cx="677.4" cy="1095.5" r="8" fill="#000"/>
<circle cx="771.5" cy="946.1" r="8" fill="#000"/>
<line x1="210.5" y1="972.8" x2="280.4" y2="996.8" stroke="#0000ff" stroke-width="5.3" stroke-linecap="round" />
<line x1="303.5" y1="1007.5" x2="375.6" y2="1050.3" stroke="#0000ff" stroke-width="5.3" stroke-linecap="round" />
<line x1="399.3" y1="1055.1" x2="467.1" y2="1045.5" stroke="#0000ff" stroke-width="5.3" stroke-linecap="round" />
<line x1="489.8" y1="1035.8" x2="563.9" y2="977.2" stroke="#0000ff" stroke-width="5.3" stroke-linecap="round" />
<line x1="586.4" y1="966.4" x2="654.6" y2="950.8" stroke="#0000ff" stroke-width="5.3" stroke-linecap="round" />
<line x1="677.7" y1="955.1" x2="750.5" y2="1004.3" stroke="#0000ff" stroke-width="5.3" stroke-linecap="round" />
<rect x="190.6" y="960.9" width="15.6" height="15.6" fill="#0000ff"/>
<rect x="284.7" y="993.1" width="15.6" height="15.6" fill="#0000ff"/>
<rect x="378.8" y="1049.1" width="15.6" height="15.6" fill="#0000ff"/>
<rect x="472" y="1036" width="15.6" height="15.6" fill="#0000ff"/>
<rect x="566.1" y="961.5" width="15.6" height="15.6" fill="#0000ff"/>
<rect x="659.2" y="940.1" width="15.6" height="15.6" fill="#0000ff"/>
<rect x="753.3" y="1003.7" width="15.6" height="15.6" fill="#0000ff"/>
<path d="M820,1184.0 L160.7,1184.0 L160.7,708.5 L820,708.5" fill="none" stroke="#000" stroke-width="3.8" stroke-linejoin="round" stroke-linecap="round"/>
<line x1="206.9" y1="1184" x2="206.9" y2="1173.5" stroke="#000" stroke-width="3.8" stroke-linecap="round" />
<line x1="254" y1="1184" x2="254" y2="1178.5" stroke="#000" stroke-width="3.8" stroke-linecap="round" />
<line x1="301" y1="1184" x2="301" y2="1173.5" stroke="#000" stroke-width="3.8" stroke-linecap="round" />
<line x1="348.1" y1="1184" x2="348.1" y2="1178.5" stroke="#000" stroke-width="3.8" stroke-linecap="round" />
<line x1="395.1" y1="1184" x2="395.1" y2="1173.5" stroke="#000" stroke-width="3.8" stroke-linecap="round" />
<line x1="442.1" y1="1184" x2="442.1" y2="1178.5" stroke="#000" stroke-width="3.8" stroke-linecap="round" />
<line x1="489.2" y1="1184" x2="489.2" y2="1173.5" stroke="#000" stroke-width="3.8" stroke-linecap="round" />
<line x1="536.2" y1="1184" x2="536.2" y2="1178.5" stroke="#000" stroke-width="3.8" stroke-linecap="round" />
<line x1="583.3" y1="1184" x2="583.3" y2="1173.5" stroke="#000" stroke-width="3.8" stroke-linecap="round" />
<line x1="630.4" y1="1184" x2="630.4" y2="1178.5" stroke="#000" stroke-width="3.8" stroke-linecap="round" />
<line x1="677.4" y1="1184" x2="677.4" y2="1173.5" stroke="#000" stroke-width="3.8" stroke-linecap="round" />
<line x1="724.5" y1="1184" x2="724.5" y2="1178.5" stroke="#000" stroke-width="3.8" stroke-linecap="round" />
<line x1="771.5" y1="1184" x2="771.5" y2="1173.5" stroke="#000" stroke-width="3.8" stroke-linecap="round" />
<line x1="818.5" y1="1184" x2="818.5" y2="1178.5" stroke="#000" stroke-width="3.8" stroke-linecap="round" />
<text x="206.9" y="1220" font-size="32" text-anchor="middle" fill="#000" font-family='"Liberation Sans", Arial, sans-serif' >0.0</text>
<text x="301" y="1220" font-size="32" text-anchor="middle" fill="#000" font-family='"Liberation Sans", Arial, sans-serif' >0.1</text>
<text x="395.1" y="1220" font-size="32" text-anchor="middle" fill="#000" font-family='"Liberation Sans", Arial, sans-serif' >0.2</text>
<text x="489.2" y="1220" font-size="32" text-anchor="middle" fill="#000" font-family='"Liberation Sans", Arial, sans-serif' >0.3</text>
<text x="583.3" y="1220" font-size="32" text-anchor="middle" fill="#000" font-family='"Liberation Sans", Arial, sans-serif' >0.4</text>
<text x="677.4" y="1220" font-size="32" text-anchor="middle" fill="#000" font-family='"Liberation Sans", Arial, sans-serif' >0.5</text>
<text x="771.5" y="1220" font-size="32" text-anchor="middle" fill="#000" font-family='"Liberation Sans", Arial, sans-serif' >0.6</text>
<line x1="160.7" y1="1149.8" x2="170.7" y2="1149.8" stroke="#000" stroke-width="3.8" stroke-linecap="round" />
<text x="149.5" y="1160.3" font-size="33" text-anchor="end" fill="#000" font-family='"Liberation Sans", Arial, sans-serif' >0.20</text>
<line x1="160.7" y1="1115.8" x2="165.7" y2="1115.8" stroke="#000" stroke-width="3.8" stroke-linecap="round" />
<line x1="160.7" y1="1081.9" x2="170.7" y2="1081.9" stroke="#000" stroke-width="3.8" stroke-linecap="round" />
<text x="149.5" y="1092.4" font-size="33" text-anchor="end" fill="#000" font-family='"Liberation Sans", Arial, sans-serif' >0.25</text>
<line x1="160.7" y1="1047.9" x2="165.7" y2="1047.9" stroke="#000" stroke-width="3.8" stroke-linecap="round" />
<line x1="160.7" y1="1014" x2="170.7" y2="1014" stroke="#000" stroke-width="3.8" stroke-linecap="round" />
<text x="149.5" y="1024.5" font-size="33" text-anchor="end" fill="#000" font-family='"Liberation Sans", Arial, sans-serif' >0.30</text>
<line x1="160.7" y1="980" x2="165.7" y2="980" stroke="#000" stroke-width="3.8" stroke-linecap="round" />
<line x1="160.7" y1="946.1" x2="170.7" y2="946.1" stroke="#000" stroke-width="3.8" stroke-linecap="round" />
<text x="149.5" y="956.6" font-size="33" text-anchor="end" fill="#000" font-family='"Liberation Sans", Arial, sans-serif' >0.35</text>
<line x1="160.7" y1="912.1" x2="165.7" y2="912.1" stroke="#000" stroke-width="3.8" stroke-linecap="round" />
<line x1="160.7" y1="878.2" x2="170.7" y2="878.2" stroke="#000" stroke-width="3.8" stroke-linecap="round" />
<text x="149.5" y="888.7" font-size="33" text-anchor="end" fill="#000" font-family='"Liberation Sans", Arial, sans-serif' >0.40</text>
<line x1="160.7" y1="844.2" x2="165.7" y2="844.2" stroke="#000" stroke-width="3.8" stroke-linecap="round" />
<line x1="160.7" y1="810.3" x2="170.7" y2="810.3" stroke="#000" stroke-width="3.8" stroke-linecap="round" />
<text x="149.5" y="820.8" font-size="33" text-anchor="end" fill="#000" font-family='"Liberation Sans", Arial, sans-serif' >0.45</text>
<line x1="160.7" y1="776.4" x2="165.7" y2="776.4" stroke="#000" stroke-width="3.8" stroke-linecap="round" />
<line x1="160.7" y1="742.4" x2="170.7" y2="742.4" stroke="#000" stroke-width="3.8" stroke-linecap="round" />
<text x="149.5" y="752.9" font-size="33" text-anchor="end" fill="#000" font-family='"Liberation Sans", Arial, sans-serif' >0.50</text>
<line x1="810" y1="705" x2="810" y2="1184" stroke="#0000ff" stroke-width="4.2" stroke-linecap="round" />
<line x1="810" y1="1182.3" x2="799" y2="1182.3" stroke="#0000ff" stroke-width="4.0" stroke-linecap="round" />
<text x="821" y="1192.1" font-size="32" text-anchor="start" fill="#0000ff" font-family='"Liberation Sans", Arial, sans-serif' >0.10</text>
<line x1="810" y1="1155.9" x2="804" y2="1155.9" stroke="#0000ff" stroke-width="4.0" stroke-linecap="round" />
<line x1="810" y1="1129.4" x2="799" y2="1129.4" stroke="#0000ff" stroke-width="4.0" stroke-linecap="round" />
<text x="821" y="1139.2" font-size="32" text-anchor="start" fill="#0000ff" font-family='"Liberation Sans", Arial, sans-serif' >0.15</text>
<line x1="810" y1="1103" x2="804" y2="1103" stroke="#0000ff" stroke-width="4.0" stroke-linecap="round" />
<line x1="810" y1="1076.5" x2="799" y2="1076.5" stroke="#0000ff" stroke-width="4.0" stroke-linecap="round" />
<text x="821" y="1086.3" font-size="32" text-anchor="start" fill="#0000ff" font-family='"Liberation Sans", Arial, sans-serif' >0.20</text>
<line x1="810" y1="1050.1" x2="804" y2="1050.1" stroke="#0000ff" stroke-width="4.0" stroke-linecap="round" />
<line x1="810" y1="1023.7" x2="799" y2="1023.7" stroke="#0000ff" stroke-width="4.0" stroke-linecap="round" />
<text x="821" y="1033.5" font-size="32" text-anchor="start" fill="#0000ff" font-family='"Liberation Sans", Arial, sans-serif' >0.25</text>
<line x1="810" y1="997.2" x2="804" y2="997.2" stroke="#0000ff" stroke-width="4.0" stroke-linecap="round" />
<line x1="810" y1="970.8" x2="799" y2="970.8" stroke="#0000ff" stroke-width="4.0" stroke-linecap="round" />
<text x="821" y="980.6" font-size="32" text-anchor="start" fill="#0000ff" font-family='"Liberation Sans", Arial, sans-serif' >0.30</text>
<line x1="810" y1="944.3" x2="804" y2="944.3" stroke="#0000ff" stroke-width="4.0" stroke-linecap="round" />
<line x1="810" y1="917.9" x2="799" y2="917.9" stroke="#0000ff" stroke-width="4.0" stroke-linecap="round" />
<text x="821" y="927.7" font-size="32" text-anchor="start" fill="#0000ff" font-family='"Liberation Sans", Arial, sans-serif' >0.35</text>
<line x1="810" y1="891.5" x2="804" y2="891.5" stroke="#0000ff" stroke-width="4.0" stroke-linecap="round" />
<line x1="810" y1="865" x2="799" y2="865" stroke="#0000ff" stroke-width="4.0" stroke-linecap="round" />
<text x="821" y="874.8" font-size="32" text-anchor="start" fill="#0000ff" font-family='"Liberation Sans", Arial, sans-serif' >0.40</text>
<line x1="810" y1="838.6" x2="804" y2="838.6" stroke="#0000ff" stroke-width="4.0" stroke-linecap="round" />
<line x1="810" y1="812.1" x2="799" y2="812.1" stroke="#0000ff" stroke-width="4.0" stroke-linecap="round" />
<text x="821" y="821.9" font-size="32" text-anchor="start" fill="#0000ff" font-family='"Liberation Sans", Arial, sans-serif' >0.45</text>
<line x1="810" y1="785.7" x2="804" y2="785.7" stroke="#0000ff" stroke-width="4.0" stroke-linecap="round" />
<line x1="810" y1="759.3" x2="799" y2="759.3" stroke="#0000ff" stroke-width="4.0" stroke-linecap="round" />
<text x="821" y="769.1" font-size="32" text-anchor="start" fill="#0000ff" font-family='"Liberation Sans", Arial, sans-serif' >0.50</text>
<line x1="810" y1="732.8" x2="804" y2="732.8" stroke="#0000ff" stroke-width="4.0" stroke-linecap="round" />
<line x1="810" y1="706.4" x2="799" y2="706.4" stroke="#0000ff" stroke-width="4.0" stroke-linecap="round" />
<text x="821" y="716.2" font-size="32" text-anchor="start" fill="#0000ff" font-family='"Liberation Sans", Arial, sans-serif' >0.55</text>
<text x="490" y="1262.7" font-size="32.5" text-anchor="middle" fill="#000" font-family='"Liberation Sans", Arial, sans-serif' >Pr content x</text>
<text x="0" y="0" font-size="32" font-family='"Liberation Sans", Arial, sans-serif' transform="translate(54 985) rotate(-90)">B<tspan font-size="20" dy="12">1</tspan></text>
<text x="0" y="0" font-size="33" font-family='"Liberation Sans", Arial, sans-serif' transform="translate(926.5 1015) rotate(-90)">B<tspan font-size="21" dy="11">2</tspan><tspan dy="-11"> (T</tspan><tspan font-size="21" dy="-13">-1</tspan><tspan dy="13">)</tspan></text>
<text x="216" y="750.5" font-size="34.5" text-anchor="middle" fill="#000" font-family='"Liberation Sans", Arial, sans-serif' >(b)</text>
<line x1="606.8" y1="751.1" x2="629.3" y2="751.1" stroke="#000" stroke-width="5.3" stroke-linecap="round" />
<line x1="654" y1="751.1" x2="677.6" y2="751.1" stroke="#000" stroke-width="5.3" stroke-linecap="round" />
<circle cx="641.5" cy="751.1" r="8.2" fill="#000"/>
<line x1="606.8" y1="800.4" x2="629.3" y2="800.4" stroke="#0000ff" stroke-width="5.5" stroke-linecap="round" />
<line x1="654" y1="800.4" x2="677.6" y2="800.4" stroke="#0000ff" stroke-width="5.5" stroke-linecap="round" />
<rect x="633.7" y="793" width="15.4" height="15.4" fill="#0000ff"/>
<text x="687.5" y="762.5" font-size="32" font-family='"Liberation Sans", Arial, sans-serif'>B<tspan font-size="20.5" dy="13">1</tspan></text>
<text x="687.5" y="811.8" font-size="32" font-family='"Liberation Sans", Arial, sans-serif'>B<tspan font-size="20.5" dy="13">2</tspan></text>
<line x1="235.4" y1="1089.1" x2="187.4" y2="1057.7" stroke="#000" stroke-width="3.4" stroke-linecap="butt" />
<polygon points="173.2,1048.4 193.5,1052.1 184.7,1065.5" fill="#000"/>
<line x1="697.3" y1="952.6" x2="783.6" y2="887.6" stroke="#0000ff" stroke-width="3.4" stroke-linecap="butt" />
<polygon points="797.2,877.4 786.8,895.2 777.2,882.4" fill="#0000ff"/>
<path d="M1140.7,1126.8 C1141.7,1125.4 1144.7,1121.1 1146.7,1118.3 C1148.7,1115.4 1150.7,1112.5 1152.7,1109.6 C1154.7,1106.7 1156.7,1103.8 1158.7,1100.8 C1160.8,1097.9 1162.8,1094.9 1164.8,1092 C1166.8,1089 1168.8,1086 1170.8,1082.9 C1172.8,1079.9 1174.8,1076.9 1176.8,1073.8 C1178.8,1070.7 1180.9,1067.6 1182.9,1064.5 C1184.9,1061.4 1186.9,1058.3 1188.9,1055.1 C1190.9,1052 1192.9,1048.8 1194.9,1045.6 C1196.9,1042.4 1198.9,1039.2 1201,1036 C1203,1032.8 1205,1029.5 1207,1026.2 C1209,1023 1211,1019.7 1213,1016.4 C1215,1013.1 1217,1009.7 1219,1006.4 C1221,1003 1223.1,999.6 1225.1,996.3 C1227.1,992.9 1229.1,989.5 1231.1,986 C1233.1,982.6 1235.1,979.2 1237.1,975.7 C1239.1,972.2 1241.2,968.8 1243.2,965.3 C1245.2,961.8 1247.2,958.3 1249.2,954.7 C1251.2,951.2 1253.2,947.7 1255.2,944.1 C1257.2,940.6 1259.2,937 1261.2,933.5 C1263.3,929.9 1265.3,926.3 1267.3,922.7 C1269.3,919.1 1271.3,915.5 1273.3,911.9 C1275.3,908.3 1277.3,904.7 1279.3,901.1 C1281.3,897.5 1283.4,893.9 1285.4,890.3 C1287.4,886.7 1289.4,883.1 1291.4,879.5 C1293.4,875.9 1295.4,872.3 1297.4,868.8 C1299.4,865.2 1301.5,861.6 1303.5,858.1 C1305.5,854.5 1307.5,851 1309.5,847.5 C1311.5,844 1313.5,840.5 1315.5,837.1 C1317.5,833.7 1319.5,830.2 1321.5,826.9 C1323.6,823.5 1325.6,820.2 1327.6,816.9 C1329.6,813.6 1331.6,810.4 1333.6,807.2 C1335.6,804 1337.6,800.9 1339.6,797.8 C1341.6,794.8 1343.7,791.8 1345.7,788.9 C1347.7,786 1349.7,783.2 1351.7,780.4 C1353.7,777.7 1355.7,775 1357.7,772.5 C1359.7,770 1361.8,767.5 1363.8,765.2 C1365.8,762.8 1367.8,760.6 1369.8,758.5 C1371.8,756.4 1373.8,754.4 1375.8,752.6 C1377.8,750.7 1379.8,749 1381.8,747.4 C1383.9,745.8 1385.9,744.4 1387.9,743.1 C1389.9,741.8 1391.9,740.7 1393.9,739.7 C1395.9,738.8 1397.9,737.9 1399.9,737.3 C1402,736.6 1404,736.1 1406,735.8 C1408,735.5 1410,735.3 1412,735.3 C1414,735.3 1416,735.5 1418,735.8 C1420,736.1 1422,736.6 1424.1,737.3 C1426.1,737.9 1428.1,738.8 1430.1,739.7 C1432.1,740.7 1434.1,741.8 1436.1,743.1 C1438.1,744.4 1440.1,745.8 1442.2,747.4 C1444.2,749 1446.2,750.7 1448.2,752.6 C1450.2,754.4 1452.2,756.4 1454.2,758.5 C1456.2,760.6 1458.2,762.8 1460.2,765.2 C1462.2,767.5 1464.3,770 1466.3,772.5 C1468.3,775 1470.3,777.7 1472.3,780.4 C1474.3,783.2 1476.3,786 1478.3,788.9 C1480.3,791.8 1482.4,794.8 1484.4,797.8 C1486.4,800.9 1488.4,804 1490.4,807.2 C1492.4,810.4 1494.4,813.6 1496.4,816.9 C1498.4,820.2 1500.4,823.5 1502.5,826.9 C1504.5,830.2 1506.5,833.7 1508.5,837.1 C1510.5,840.5 1512.5,844 1514.5,847.5 C1516.5,851 1518.5,854.5 1520.5,858.1 C1522.5,861.6 1524.6,865.2 1526.6,868.8 C1528.6,872.3 1530.6,875.9 1532.6,879.5 C1534.6,883.1 1536.6,886.7 1538.6,890.3 C1540.6,893.9 1542.7,897.5 1544.7,901.1 C1546.7,904.7 1548.7,908.3 1550.7,911.9 C1552.7,915.5 1554.7,919.1 1556.7,922.7 C1558.7,926.3 1560.7,929.9 1562.8,933.5 C1564.8,937 1566.8,940.6 1568.8,944.1 C1570.8,947.7 1572.8,951.2 1574.8,954.7 C1576.8,958.3 1578.8,961.8 1580.8,965.3 C1582.8,968.8 1584.9,972.2 1586.9,975.7 C1588.9,979.2 1590.9,982.6 1592.9,986 C1594.9,989.5 1596.9,992.9 1598.9,996.3 C1600.9,999.6 1603,1003 1605,1006.4 C1607,1009.7 1609,1013.1 1611,1016.4 C1613,1019.7 1615,1023 1617,1026.2 C1619,1029.5 1621,1032.8 1623,1036 C1625.1,1039.2 1627.1,1042.4 1629.1,1045.6 C1631.1,1048.8 1633.1,1052 1635.1,1055.1 C1637.1,1058.3 1639.1,1061.4 1641.1,1064.5 C1643.2,1067.6 1645.2,1070.7 1647.2,1073.8 C1649.2,1076.9 1651.2,1079.9 1653.2,1082.9 C1655.2,1086 1657.2,1089 1659.2,1092 C1661.2,1094.9 1663.2,1097.9 1665.3,1100.8 C1667.3,1103.8 1669.3,1106.7 1671.3,1109.6 C1673.3,1112.5 1675.3,1115.4 1677.3,1118.3 C1679.3,1121.1 1682.3,1125.4 1683.3,1126.8" fill="none" stroke="#808000" stroke-width="15" stroke-linecap="round" opacity="0.8"/>
<path d="M1140.7,1126.8 C1141.7,1125.4 1144.7,1121.1 1146.7,1118.3 C1148.7,1115.4 1150.7,1112.5 1152.7,1109.6 C1154.7,1106.7 1156.7,1103.8 1158.7,1100.8 C1160.8,1097.9 1162.8,1094.9 1164.8,1092 C1166.8,1089 1168.8,1086 1170.8,1082.9 C1172.8,1079.9 1174.8,1076.9 1176.8,1073.8 C1178.8,1070.7 1180.9,1067.6 1182.9,1064.5 C1184.9,1061.4 1186.9,1058.3 1188.9,1055.1 C1190.9,1052 1192.9,1048.8 1194.9,1045.6 C1196.9,1042.4 1198.9,1039.2 1201,1036 C1203,1032.8 1205,1029.5 1207,1026.2 C1209,1023 1211,1019.7 1213,1016.4 C1215,1013.1 1217,1009.7 1219,1006.4 C1221,1003 1223.1,999.6 1225.1,996.3 C1227.1,992.9 1229.1,989.5 1231.1,986 C1233.1,982.6 1235.1,979.2 1237.1,975.7 C1239.1,972.2 1241.2,968.8 1243.2,965.3 C1245.2,961.8 1247.2,958.3 1249.2,954.7 C1251.2,951.2 1253.2,947.7 1255.2,944.1 C1257.2,940.6 1259.2,937 1261.2,933.5 C1263.3,929.9 1265.3,926.3 1267.3,922.7 C1269.3,919.1 1271.3,915.5 1273.3,911.9 C1275.3,908.3 1277.3,904.7 1279.3,901.1 C1281.3,897.5 1283.4,893.9 1285.4,890.3 C1287.4,886.7 1289.4,883.1 1291.4,879.5 C1293.4,875.9 1295.4,872.3 1297.4,868.8 C1299.4,865.2 1301.5,861.6 1303.5,858.1 C1305.5,854.5 1307.5,851 1309.5,847.5 C1311.5,844 1313.5,840.5 1315.5,837.1 C1317.5,833.7 1319.5,830.2 1321.5,826.9 C1323.6,823.5 1325.6,820.2 1327.6,816.9 C1329.6,813.6 1331.6,810.4 1333.6,807.2 C1335.6,804 1337.6,800.9 1339.6,797.8 C1341.6,794.8 1343.7,791.8 1345.7,788.9 C1347.7,786 1349.7,783.2 1351.7,780.4 C1353.7,777.7 1355.7,775 1357.7,772.5 C1359.7,770 1361.8,767.5 1363.8,765.2 C1365.8,762.8 1367.8,760.6 1369.8,758.5 C1371.8,756.4 1373.8,754.4 1375.8,752.6 C1377.8,750.7 1379.8,749 1381.8,747.4 C1383.9,745.8 1385.9,744.4 1387.9,743.1 C1389.9,741.8 1391.9,740.7 1393.9,739.7 C1395.9,738.8 1397.9,737.9 1399.9,737.3 C1402,736.6 1404,736.1 1406,735.8 C1408,735.5 1410,735.3 1412,735.3 C1414,735.3 1416,735.5 1418,735.8 C1420,736.1 1422,736.6 1424.1,737.3 C1426.1,737.9 1428.1,738.8 1430.1,739.7 C1432.1,740.7 1434.1,741.8 1436.1,743.1 C1438.1,744.4 1440.1,745.8 1442.2,747.4 C1444.2,749 1446.2,750.7 1448.2,752.6 C1450.2,754.4 1452.2,756.4 1454.2,758.5 C1456.2,760.6 1458.2,762.8 1460.2,765.2 C1462.2,767.5 1464.3,770 1466.3,772.5 C1468.3,775 1470.3,777.7 1472.3,780.4 C1474.3,783.2 1476.3,786 1478.3,788.9 C1480.3,791.8 1482.4,794.8 1484.4,797.8 C1486.4,800.9 1488.4,804 1490.4,807.2 C1492.4,810.4 1494.4,813.6 1496.4,816.9 C1498.4,820.2 1500.4,823.5 1502.5,826.9 C1504.5,830.2 1506.5,833.7 1508.5,837.1 C1510.5,840.5 1512.5,844 1514.5,847.5 C1516.5,851 1518.5,854.5 1520.5,858.1 C1522.5,861.6 1524.6,865.2 1526.6,868.8 C1528.6,872.3 1530.6,875.9 1532.6,879.5 C1534.6,883.1 1536.6,886.7 1538.6,890.3 C1540.6,893.9 1542.7,897.5 1544.7,901.1 C1546.7,904.7 1548.7,908.3 1550.7,911.9 C1552.7,915.5 1554.7,919.1 1556.7,922.7 C1558.7,926.3 1560.7,929.9 1562.8,933.5 C1564.8,937 1566.8,940.6 1568.8,944.1 C1570.8,947.7 1572.8,951.2 1574.8,954.7 C1576.8,958.3 1578.8,961.8 1580.8,965.3 C1582.8,968.8 1584.9,972.2 1586.9,975.7 C1588.9,979.2 1590.9,982.6 1592.9,986 C1594.9,989.5 1596.9,992.9 1598.9,996.3 C1600.9,999.6 1603,1003 1605,1006.4 C1607,1009.7 1609,1013.1 1611,1016.4 C1613,1019.7 1615,1023 1617,1026.2 C1619,1029.5 1621,1032.8 1623,1036 C1625.1,1039.2 1627.1,1042.4 1629.1,1045.6 C1631.1,1048.8 1633.1,1052 1635.1,1055.1 C1637.1,1058.3 1639.1,1061.4 1641.1,1064.5 C1643.2,1067.6 1645.2,1070.7 1647.2,1073.8 C1649.2,1076.9 1651.2,1079.9 1653.2,1082.9 C1655.2,1086 1657.2,1089 1659.2,1092 C1661.2,1094.9 1663.2,1097.9 1665.3,1100.8 C1667.3,1103.8 1669.3,1106.7 1671.3,1109.6 C1673.3,1112.5 1675.3,1115.4 1677.3,1118.3 C1679.3,1121.1 1682.3,1125.4 1683.3,1126.8" fill="none" stroke="#cfcf9c" stroke-width="13.4" stroke-linecap="round"/>
<circle cx="1140.7" cy="1126.8" r="7" fill="#fff" fill-opacity="0.85" stroke="#808000" stroke-opacity="0.5" stroke-width="1"/>
<path d="M1140.7,1092.6 C1141.7,1091.5 1144.7,1088.1 1146.7,1085.9 C1148.7,1083.6 1150.7,1081.4 1152.7,1079.1 C1154.7,1076.8 1156.7,1074.5 1158.7,1072.1 C1160.8,1069.8 1162.8,1067.5 1164.8,1065.1 C1166.8,1062.7 1168.8,1060.3 1170.8,1057.9 C1172.8,1055.5 1174.8,1053.1 1176.8,1050.6 C1178.8,1048.2 1180.9,1045.7 1182.9,1043.2 C1184.9,1040.7 1186.9,1038.2 1188.9,1035.6 C1190.9,1033.1 1192.9,1030.5 1194.9,1027.9 C1196.9,1025.3 1198.9,1022.7 1201,1020.1 C1203,1017.4 1205,1014.8 1207,1012.1 C1209,1009.4 1211,1006.7 1213,1004 C1215,1001.2 1217,998.5 1219,995.7 C1221,992.9 1223.1,990.1 1225.1,987.3 C1227.1,984.5 1229.1,981.6 1231.1,978.7 C1233.1,975.9 1235.1,972.9 1237.1,970 C1239.1,967.1 1241.2,964.1 1243.2,961.2 C1245.2,958.2 1247.2,955.2 1249.2,952.1 C1251.2,949.1 1253.2,946.1 1255.2,943 C1257.2,939.9 1259.2,936.8 1261.2,933.7 C1263.3,930.5 1265.3,927.4 1267.3,924.2 C1269.3,921.1 1271.3,917.9 1273.3,914.6 C1275.3,911.4 1277.3,908.2 1279.3,904.9 C1281.3,901.7 1283.4,898.4 1285.4,895.1 C1287.4,891.8 1289.4,888.5 1291.4,885.2 C1293.4,881.9 1295.4,878.5 1297.4,875.2 C1299.4,871.8 1301.5,868.5 1303.5,865.1 C1305.5,861.7 1307.5,858.4 1309.5,855 C1311.5,851.6 1313.5,848.2 1315.5,844.9 C1317.5,841.5 1319.5,838.1 1321.5,834.8 C1323.6,831.5 1325.6,828.1 1327.6,824.8 C1329.6,821.5 1331.6,818.2 1333.6,814.9 C1335.6,811.7 1337.6,808.4 1339.6,805.2 C1341.6,802.1 1343.7,798.9 1345.7,795.8 C1347.7,792.7 1349.7,789.7 1351.7,786.7 C1353.7,783.8 1355.7,780.9 1357.7,778.1 C1359.7,775.3 1361.8,772.6 1363.8,770 C1365.8,767.4 1367.8,764.8 1369.8,762.4 C1371.8,760.1 1373.8,757.8 1375.8,755.7 C1377.8,753.5 1379.8,751.5 1381.8,749.7 C1383.9,747.9 1385.9,746.2 1387.9,744.6 C1389.9,743.1 1391.9,741.8 1393.9,740.6 C1395.9,739.5 1397.9,738.5 1399.9,737.7 C1402,736.9 1404,736.3 1406,735.9 C1408,735.5 1410,735.3 1412,735.3 C1414,735.3 1416,735.5 1418,735.9 C1420,736.3 1422,736.9 1424.1,737.7 C1426.1,738.5 1428.1,739.5 1430.1,740.6 C1432.1,741.8 1434.1,743.1 1436.1,744.6 C1438.1,746.2 1440.1,747.9 1442.2,749.7 C1444.2,751.5 1446.2,753.5 1448.2,755.7 C1450.2,757.8 1452.2,760.1 1454.2,762.4 C1456.2,764.8 1458.2,767.4 1460.2,770 C1462.2,772.6 1464.3,775.3 1466.3,778.1 C1468.3,780.9 1470.3,783.8 1472.3,786.7 C1474.3,789.7 1476.3,792.7 1478.3,795.8 C1480.3,798.9 1482.4,802.1 1484.4,805.2 C1486.4,808.4 1488.4,811.7 1490.4,814.9 C1492.4,818.2 1494.4,821.5 1496.4,824.8 C1498.4,828.1 1500.4,831.5 1502.5,834.8 C1504.5,838.1 1506.5,841.5 1508.5,844.9 C1510.5,848.2 1512.5,851.6 1514.5,855 C1516.5,858.4 1518.5,861.7 1520.5,865.1 C1522.5,868.5 1524.6,871.8 1526.6,875.2 C1528.6,878.5 1530.6,881.9 1532.6,885.2 C1534.6,888.5 1536.6,891.8 1538.6,895.1 C1540.6,898.4 1542.7,901.7 1544.7,904.9 C1546.7,908.2 1548.7,911.4 1550.7,914.6 C1552.7,917.9 1554.7,921.1 1556.7,924.2 C1558.7,927.4 1560.7,930.5 1562.8,933.7 C1564.8,936.8 1566.8,939.9 1568.8,943 C1570.8,946.1 1572.8,949.1 1574.8,952.1 C1576.8,955.2 1578.8,958.2 1580.8,961.2 C1582.8,964.1 1584.9,967.1 1586.9,970 C1588.9,972.9 1590.9,975.9 1592.9,978.7 C1594.9,981.6 1596.9,984.5 1598.9,987.3 C1600.9,990.1 1603,992.9 1605,995.7 C1607,998.5 1609,1001.2 1611,1004 C1613,1006.7 1615,1009.4 1617,1012.1 C1619,1014.8 1621,1017.4 1623,1020.1 C1625.1,1022.7 1627.1,1025.3 1629.1,1027.9 C1631.1,1030.5 1633.1,1033.1 1635.1,1035.6 C1637.1,1038.2 1639.1,1040.7 1641.1,1043.2 C1643.2,1045.7 1645.2,1048.2 1647.2,1050.6 C1649.2,1053.1 1651.2,1055.5 1653.2,1057.9 C1655.2,1060.3 1657.2,1062.7 1659.2,1065.1 C1661.2,1067.5 1663.2,1069.8 1665.3,1072.1 C1667.3,1074.5 1669.3,1076.8 1671.3,1079.1 C1673.3,1081.4 1675.3,1083.6 1677.3,1085.9 C1679.3,1088.1 1682.3,1091.5 1683.3,1092.6" fill="none" stroke="#808000" stroke-width="4.5" stroke-linecap="round" stroke-dasharray="15.5 26.3" stroke-dashoffset="26.4"/>
<path d="M1081.2,1175.2 L1081.2,691.6 L1742.7,691.6 L1742.7,1175.2 Z" fill="none" stroke="#000" stroke-width="3.8" stroke-linejoin="round"/>
<line x1="1110.5" y1="1175.2" x2="1110.5" y2="1165.2" stroke="#000" stroke-width="3.8" stroke-linecap="round" />
<line x1="1140.7" y1="1175.2" x2="1140.7" y2="1170.2" stroke="#000" stroke-width="3.8" stroke-linecap="round" />
<line x1="1170.8" y1="1175.2" x2="1170.8" y2="1165.2" stroke="#000" stroke-width="3.8" stroke-linecap="round" />
<line x1="1201" y1="1175.2" x2="1201" y2="1170.2" stroke="#000" stroke-width="3.8" stroke-linecap="round" />
<line x1="1231.1" y1="1175.2" x2="1231.1" y2="1165.2" stroke="#000" stroke-width="3.8" stroke-linecap="round" />
<line x1="1261.2" y1="1175.2" x2="1261.2" y2="1170.2" stroke="#000" stroke-width="3.8" stroke-linecap="round" />
<line x1="1291.4" y1="1175.2" x2="1291.4" y2="1165.2" stroke="#000" stroke-width="3.8" stroke-linecap="round" />
<line x1="1321.5" y1="1175.2" x2="1321.5" y2="1170.2" stroke="#000" stroke-width="3.8" stroke-linecap="round" />
<line x1="1351.7" y1="1175.2" x2="1351.7" y2="1165.2" stroke="#000" stroke-width="3.8" stroke-linecap="round" />
<line x1="1381.8" y1="1175.2" x2="1381.8" y2="1170.2" stroke="#000" stroke-width="3.8" stroke-linecap="round" />
<line x1="1412" y1="1175.2" x2="1412" y2="1165.2" stroke="#000" stroke-width="3.8" stroke-linecap="round" />
<line x1="1442.2" y1="1175.2" x2="1442.2" y2="1170.2" stroke="#000" stroke-width="3.8" stroke-linecap="round" />
<line x1="1472.3" y1="1175.2" x2="1472.3" y2="1165.2" stroke="#000" stroke-width="3.8" stroke-linecap="round" />
<line x1="1502.5" y1="1175.2" x2="1502.5" y2="1170.2" stroke="#000" stroke-width="3.8" stroke-linecap="round" />
<line x1="1532.6" y1="1175.2" x2="1532.6" y2="1165.2" stroke="#000" stroke-width="3.8" stroke-linecap="round" />
<line x1="1562.8" y1="1175.2" x2="1562.8" y2="1170.2" stroke="#000" stroke-width="3.8" stroke-linecap="round" />
<line x1="1592.9" y1="1175.2" x2="1592.9" y2="1165.2" stroke="#000" stroke-width="3.8" stroke-linecap="round" />
<line x1="1623" y1="1175.2" x2="1623" y2="1170.2" stroke="#000" stroke-width="3.8" stroke-linecap="round" />
<line x1="1653.2" y1="1175.2" x2="1653.2" y2="1165.2" stroke="#000" stroke-width="3.8" stroke-linecap="round" />
<line x1="1683.3" y1="1175.2" x2="1683.3" y2="1170.2" stroke="#000" stroke-width="3.8" stroke-linecap="round" />
<line x1="1713.5" y1="1175.2" x2="1713.5" y2="1165.2" stroke="#000" stroke-width="3.8" stroke-linecap="round" />
<text x="1110.5" y="1214.8" font-size="37.5" text-anchor="middle" fill="#000" font-family='"Liberation Sans", Arial, sans-serif' >-10</text>
<text x="1170.8" y="1214.8" font-size="37.5" text-anchor="middle" fill="#000" font-family='"Liberation Sans", Arial, sans-serif' >-8</text>
<text x="1231.1" y="1214.8" font-size="37.5" text-anchor="middle" fill="#000" font-family='"Liberation Sans", Arial, sans-serif' >-6</text>
<text x="1291.4" y="1214.8" font-size="37.5" text-anchor="middle" fill="#000" font-family='"Liberation Sans", Arial, sans-serif' >-4</text>
<text x="1351.7" y="1214.8" font-size="37.5" text-anchor="middle" fill="#000" font-family='"Liberation Sans", Arial, sans-serif' >-2</text>
<text x="1412" y="1214.8" font-size="37.5" text-anchor="middle" fill="#000" font-family='"Liberation Sans", Arial, sans-serif' >0</text>
<text x="1472.3" y="1214.8" font-size="37.5" text-anchor="middle" fill="#000" font-family='"Liberation Sans", Arial, sans-serif' >2</text>
<text x="1532.6" y="1214.8" font-size="37.5" text-anchor="middle" fill="#000" font-family='"Liberation Sans", Arial, sans-serif' >4</text>
<text x="1592.9" y="1214.8" font-size="37.5" text-anchor="middle" fill="#000" font-family='"Liberation Sans", Arial, sans-serif' >6</text>
<text x="1653.2" y="1214.8" font-size="37.5" text-anchor="middle" fill="#000" font-family='"Liberation Sans", Arial, sans-serif' >8</text>
<text x="1713.5" y="1214.8" font-size="37.5" text-anchor="middle" fill="#000" font-family='"Liberation Sans", Arial, sans-serif' >10</text>
<line x1="1081.2" y1="735.3" x2="1090.7" y2="735.3" stroke="#000" stroke-width="3.8" stroke-linecap="round" />
<text x="1069.5" y="746.8" font-size="37.5" text-anchor="end" fill="#000" font-family='"Liberation Sans", Arial, sans-serif' >0.0</text>
<line x1="1081.2" y1="784.2" x2="1086.2" y2="784.2" stroke="#000" stroke-width="3.8" stroke-linecap="round" />
<line x1="1081.2" y1="833.2" x2="1090.7" y2="833.2" stroke="#000" stroke-width="3.8" stroke-linecap="round" />
<text x="1069.5" y="844.7" font-size="37.5" text-anchor="end" fill="#000" font-family='"Liberation Sans", Arial, sans-serif' >-0.1</text>
<line x1="1081.2" y1="882.1" x2="1086.2" y2="882.1" stroke="#000" stroke-width="3.8" stroke-linecap="round" />
<line x1="1081.2" y1="931.1" x2="1090.7" y2="931.1" stroke="#000" stroke-width="3.8" stroke-linecap="round" />
<text x="1069.5" y="942.6" font-size="37.5" text-anchor="end" fill="#000" font-family='"Liberation Sans", Arial, sans-serif' >-0.2</text>
<line x1="1081.2" y1="980" x2="1086.2" y2="980" stroke="#000" stroke-width="3.8" stroke-linecap="round" />
<line x1="1081.2" y1="1029" x2="1090.7" y2="1029" stroke="#000" stroke-width="3.8" stroke-linecap="round" />
<text x="1069.5" y="1040.5" font-size="37.5" text-anchor="end" fill="#000" font-family='"Liberation Sans", Arial, sans-serif' >-0.3</text>
<line x1="1081.2" y1="1078" x2="1086.2" y2="1078" stroke="#000" stroke-width="3.8" stroke-linecap="round" />
<line x1="1081.2" y1="1126.9" x2="1090.7" y2="1126.9" stroke="#000" stroke-width="3.8" stroke-linecap="round" />
<text x="1069.5" y="1138.4" font-size="37.5" text-anchor="end" fill="#000" font-family='"Liberation Sans", Arial, sans-serif' >-0.4</text>
<text x="1421" y="1258" font-size="37.5" text-anchor="middle" fill="#000" font-family='"Liberation Sans", Arial, sans-serif' >B (T)</text>
<text x="0" y="0" font-size="38" font-family='"Liberation Serif", "Times New Roman", serif' text-anchor="middle" transform="translate(999.4 942) rotate(-90)">MR (%)</text>
<text x="1135.4" y="743.5" font-size="38" text-anchor="middle" fill="#000" font-family='"Liberation Sans", Arial, sans-serif' >(d)</text>
<line x1="1297.5" y1="941.5" x2="1382" y2="941.5" stroke="#808000" stroke-width="4.2" stroke-linecap="round" />
<ellipse cx="1339.3" cy="941.5" rx="7.4" ry="6.4" fill="#fff" stroke="#808000" stroke-width="1.8"/>
<text x="1391.5" y="954.6" font-size="38.3" text-anchor="start" fill="#000" font-family='"Liberation Sans", Arial, sans-serif' >x=0.3</text>
<line x1="1297.5" y1="987.3" x2="1316.5" y2="987.3" stroke="#808000" stroke-width="4.4" stroke-linecap="round" />
<line x1="1341.5" y1="987.3" x2="1360" y2="987.3" stroke="#808000" stroke-width="4.4" stroke-linecap="round" />
<text x="1390.5" y="1000" font-size="38.5" text-anchor="start" fill="#000" font-family='"Liberation Sans", Arial, sans-serif' >Fitting</text>
</svg>
</body></html>
